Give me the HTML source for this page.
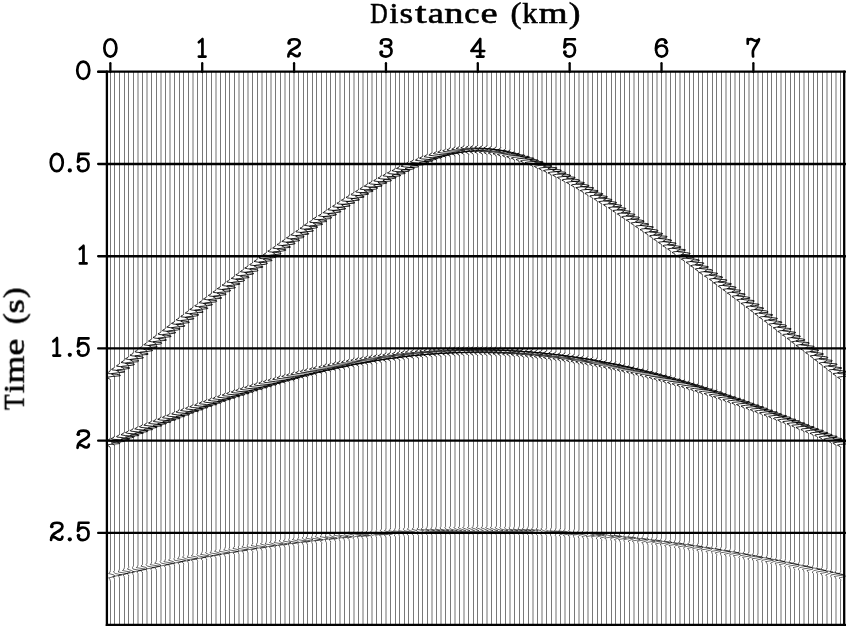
<!DOCTYPE html>
<html><head><meta charset="utf-8"><style>
html,body{margin:0;padding:0;background:#fff;width:846px;height:626px;overflow:hidden}
svg{position:absolute;left:0;top:0}
</style></head><body>
<svg width="846" height="626" viewBox="0 0 846 626">
<rect width="846" height="626" fill="#fff"/>
<path d="M110.5 72.00V369.87M110.5 380.20V437.75M110.5 448.08V570.55M110.5 580.88V625.50M114.5 72.00V366.92M114.5 376.51V435.54M114.5 445.86V570.55M114.5 579.41V625.50M119.5 72.00V363.23M119.5 372.82V434.06M119.5 443.65V569.08M119.5 577.93V625.50M124.5 72.00V359.54M124.5 369.87V431.85M124.5 442.18V567.60M124.5 577.93V625.50M128.5 72.00V355.85M128.5 366.18V429.63M128.5 439.96V566.13M128.5 576.46V625.50M133.5 72.00V352.16M133.5 362.49V428.16M133.5 437.75V566.13M133.5 574.98V625.50M142.5 72.00V345.52M142.5 355.12V423.73M142.5 434.06V563.17M142.5 573.50V625.50M151.5 72.00V338.15M151.5 348.47V420.04M151.5 430.37V561.70M151.5 570.55V625.50M156.5 72.00V334.46M156.5 344.79V418.57M156.5 428.16V560.22M156.5 570.55V625.50M165.5 72.00V327.82M165.5 337.41V414.88M165.5 424.47V558.75M165.5 567.60V625.50M174.5 72.00V320.44M174.5 330.77V411.19M174.5 420.78V557.27M174.5 566.13V625.50M179.5 72.00V316.75M179.5 327.08V408.97M179.5 419.30V555.80M179.5 564.65V625.50M183.5 72.00V313.80M183.5 323.39V407.50M183.5 417.83V554.32M183.5 564.65V625.50M188.5 72.00V310.11M188.5 320.44V406.02M188.5 415.61V554.32M188.5 563.17V625.50M197.5 72.00V303.47M197.5 313.06V402.33M197.5 412.66V552.85M197.5 561.70V625.50M202.5 72.00V299.78M202.5 309.37V400.86M202.5 410.45V551.37M202.5 560.22V625.50M206.5 72.00V296.09M206.5 306.42V398.65M206.5 408.97V551.37M206.5 560.22V625.50M211.5 72.00V292.40M211.5 302.73V397.17M211.5 407.50V549.89M211.5 558.75V625.50M220.5 72.00V285.76M220.5 296.09V394.22M220.5 403.81V548.42M220.5 557.27V625.50M225.5 72.00V282.07M225.5 292.40V392.74M225.5 402.33V546.94M225.5 557.27V625.50M229.5 72.00V279.12M229.5 288.71V390.53M229.5 400.86V546.94M229.5 555.80V625.50M234.5 72.00V275.43M234.5 285.76V389.05M234.5 399.38V545.47M234.5 555.80V625.50M243.5 72.00V268.79M243.5 278.38V386.10M243.5 396.43V543.99M243.5 554.32V625.50M252.5 72.00V262.15M252.5 271.74V383.15M252.5 393.48V542.52M252.5 552.85V625.50M257.5 72.00V258.46M257.5 268.79V381.68M257.5 392.01V542.52M257.5 551.37V625.50M266.5 72.00V251.82M266.5 262.15V378.72M266.5 389.05V541.04M266.5 549.89V625.50M275.5 72.00V245.18M275.5 255.51V376.51M275.5 386.10V539.57M275.5 548.42V625.50M280.5 72.00V241.49M280.5 251.82V375.04M280.5 385.37V539.57M280.5 548.42V625.50M289.5 72.00V234.85M289.5 245.18V372.82M289.5 382.41V538.09M289.5 546.94V625.50M298.5 72.00V228.95M298.5 238.54V369.87M298.5 380.20V536.61M298.5 545.47V625.50M303.5 72.00V225.26M303.5 235.59V369.13M303.5 378.72V536.61M303.5 545.47V625.50M307.5 72.00V222.31M307.5 232.64V367.66M307.5 377.99V535.14M307.5 545.47V625.50M312.5 72.00V219.36M312.5 228.95V366.92M312.5 376.51V535.14M312.5 543.99V625.50M316.5 72.00V215.67M316.5 226.00V365.44M316.5 375.77V533.66M316.5 543.99V625.50M321.5 72.00V212.72M321.5 223.05V364.71M321.5 374.30V533.66M321.5 543.99V625.50M326.5 72.00V209.77M326.5 220.10V363.23M326.5 373.56V533.66M326.5 542.52V625.50M330.5 72.00V206.82M330.5 216.41V362.49M330.5 372.08V532.19M330.5 542.52V625.50M335.5 72.00V203.87M335.5 213.46V361.02M335.5 371.35V532.19M335.5 542.52V625.50M344.5 72.00V197.23M344.5 207.56V359.54M344.5 369.87V532.19M344.5 541.04V625.50M349.5 72.00V194.27M349.5 204.60V358.80M349.5 368.40V530.71M349.5 541.04V625.50M358.5 72.00V189.11M358.5 198.70V356.59M358.5 366.92V530.71M358.5 539.57V625.50M367.5 72.00V183.21M367.5 193.54V355.12M367.5 365.44V529.24M367.5 539.57V625.50M376.5 72.00V178.04M376.5 187.63V353.64M376.5 363.97V529.24M376.5 538.09V625.50M381.5 72.00V175.09M381.5 185.42V352.90M381.5 363.23V529.24M381.5 538.09V625.50M390.5 72.00V169.93M390.5 180.26V351.43M390.5 361.76V527.76M390.5 538.09V625.50M395.5 72.00V167.71M395.5 178.04V351.43M395.5 361.02V527.76M395.5 536.61V625.50M399.5 72.00V165.50M399.5 175.83V350.69M399.5 361.02V527.76M399.5 536.61V625.50M404.5 72.00V163.29M404.5 173.62V349.95M404.5 360.28V527.76M404.5 536.61V625.50M408.5 72.00V161.07M408.5 171.40V349.21M408.5 359.54V527.76M408.5 536.61V625.50M413.5 72.00V158.86M413.5 169.19V349.21M413.5 358.80V526.28M413.5 536.61V625.50M418.5 72.00V157.38M418.5 166.98V348.47M418.5 358.80V526.28M418.5 536.61V625.50M422.5 72.00V155.17M422.5 165.50V348.47M422.5 358.07V526.28M422.5 535.14V625.50M427.5 72.00V153.70M427.5 164.02V347.74M427.5 358.07V526.28M427.5 535.14V625.50M436.5 72.00V150.74M436.5 161.07V347.00M436.5 357.33V526.28M436.5 535.14V625.50M445.5 72.00V148.53M445.5 158.12V347.00M445.5 356.59V526.28M445.5 535.14V625.50M450.5 72.00V147.06M450.5 157.38V346.26M450.5 356.59V526.28M450.5 535.14V625.50M459.5 72.00V145.58M459.5 155.91V346.26M459.5 356.59V526.28M459.5 535.14V625.50M468.5 72.00V144.84M468.5 155.17V346.26M468.5 355.85V524.81M468.5 535.14V625.50M473.5 72.00V144.84M473.5 154.43V346.26M473.5 355.85V524.81M473.5 535.14V625.50M477.5 72.00V144.84M477.5 154.43V346.26M477.5 355.85V524.81M477.5 535.14V625.50M482.5 72.00V144.84M482.5 155.17V346.26M482.5 355.85V524.81M482.5 535.14V625.50M491.5 72.00V145.58M491.5 155.91V346.26M491.5 356.59V526.28M491.5 535.14V625.50M496.5 72.00V146.32M496.5 156.65V346.26M496.5 356.59V526.28M496.5 535.14V625.50M500.5 72.00V147.06M500.5 157.38V346.26M500.5 356.59V526.28M500.5 535.14V625.50M505.5 72.00V148.53M505.5 158.12V347.00M505.5 356.59V526.28M505.5 535.14V625.50M514.5 72.00V150.74M514.5 161.07V347.00M514.5 357.33V526.28M514.5 535.14V625.50M519.5 72.00V152.22M519.5 162.55V347.74M519.5 357.33V526.28M519.5 535.14V625.50M523.5 72.00V153.70M523.5 164.02V347.74M523.5 358.07V526.28M523.5 535.14V625.50M528.5 72.00V155.17M528.5 165.50V348.47M528.5 358.07V526.28M528.5 535.14V625.50M537.5 72.00V158.86M537.5 169.19V349.21M537.5 358.80V526.28M537.5 536.61V625.50M546.5 72.00V163.29M546.5 173.62V349.95M546.5 360.28V527.76M546.5 536.61V625.50M551.5 72.00V165.50M551.5 175.83V350.69M551.5 361.02V527.76M551.5 536.61V625.50M560.5 72.00V169.93M560.5 180.26V351.43M560.5 361.76V527.76M560.5 538.09V625.50M569.5 72.00V175.09M569.5 185.42V352.90M569.5 363.23V529.24M569.5 538.09V625.50M574.5 72.00V178.04M574.5 187.63V353.64M574.5 363.97V529.24M574.5 538.09V625.50M583.5 72.00V183.21M583.5 193.54V355.12M583.5 365.44V529.24M583.5 539.57V625.50M592.5 72.00V189.11M592.5 198.70V356.59M592.5 366.92V530.71M592.5 539.57V625.50M597.5 72.00V192.06M597.5 201.65V357.33M597.5 367.66V530.71M597.5 539.57V625.50M601.5 72.00V194.27M601.5 204.60V358.80M601.5 368.40V530.71M601.5 541.04V625.50M606.5 72.00V197.23M606.5 207.56V359.54M606.5 369.87V532.19M606.5 541.04V625.50M611.5 72.00V200.92M611.5 210.51V360.28M611.5 370.61V532.19M611.5 541.04V625.50M615.5 72.00V203.87M615.5 213.46V361.02M615.5 371.35V532.19M615.5 542.52V625.50M620.5 72.00V206.82M620.5 216.41V362.49M620.5 372.08V532.19M620.5 542.52V625.50M624.5 72.00V209.77M624.5 220.10V363.23M624.5 373.56V533.66M624.5 542.52V625.50M629.5 72.00V212.72M629.5 223.05V364.71M629.5 374.30V533.66M629.5 543.99V625.50M638.5 72.00V219.36M638.5 228.95V366.92M638.5 376.51V535.14M638.5 543.99V625.50M643.5 72.00V222.31M643.5 232.64V367.66M643.5 377.99V535.14M643.5 545.47V625.50M652.5 72.00V228.95M652.5 238.54V369.87M652.5 380.20V536.61M652.5 545.47V625.50M661.5 72.00V234.85M661.5 245.18V372.82M661.5 382.41V538.09M661.5 546.94V625.50M670.5 72.00V241.49M670.5 251.82V375.04M670.5 385.37V539.57M670.5 548.42V625.50M675.5 72.00V245.18M675.5 255.51V376.51M675.5 386.10V539.57M675.5 548.42V625.50M684.5 72.00V251.82M684.5 262.15V378.72M684.5 389.05V541.04M684.5 549.89V625.50M689.5 72.00V254.77M689.5 265.10V380.20M689.5 390.53V541.04M689.5 551.37V625.50M693.5 72.00V258.46M693.5 268.79V381.68M693.5 392.01V542.52M693.5 551.37V625.50M698.5 72.00V262.15M698.5 271.74V383.15M698.5 393.48V542.52M698.5 552.85V625.50M702.5 72.00V265.10M702.5 275.43V384.63M702.5 394.96V543.99M702.5 552.85V625.50M707.5 72.00V268.79M707.5 278.38V386.10M707.5 396.43V543.99M707.5 554.32V625.50M712.5 72.00V271.74M712.5 282.07V387.58M712.5 397.91V545.47M712.5 554.32V625.50M716.5 72.00V275.43M716.5 285.76V389.05M716.5 399.38V545.47M716.5 555.80V625.50M721.5 72.00V279.12M721.5 288.71V390.53M721.5 400.86V546.94M721.5 555.80V625.50M730.5 72.00V285.76M730.5 296.09V394.22M730.5 403.81V548.42M730.5 557.27V625.50M739.5 72.00V292.40M739.5 302.73V397.17M739.5 407.50V549.89M739.5 558.75V625.50M744.5 72.00V296.09M744.5 306.42V398.65M744.5 408.97V551.37M744.5 560.22V625.50M753.5 72.00V303.47M753.5 313.06V402.33M753.5 412.66V552.85M753.5 561.70V625.50M762.5 72.00V310.11M762.5 320.44V406.02M762.5 415.61V554.32M762.5 563.17V625.50M767.5 72.00V313.80M767.5 323.39V407.50M767.5 417.83V554.32M767.5 564.65V625.50M771.5 72.00V316.75M771.5 327.08V408.97M771.5 419.30V555.80M771.5 564.65V625.50M776.5 72.00V320.44M776.5 330.77V411.19M776.5 420.78V557.27M776.5 566.13V625.50M785.5 72.00V327.82M785.5 337.41V414.88M785.5 424.47V558.75M785.5 567.60V625.50M790.5 72.00V331.51M790.5 341.10V416.35M790.5 426.68V560.22M790.5 569.08V625.50M794.5 72.00V334.46M794.5 344.79V418.57M794.5 428.16V560.22M794.5 570.55V625.50M799.5 72.00V338.15M799.5 348.47V420.04M799.5 430.37V561.70M799.5 570.55V625.50M808.5 72.00V345.52M808.5 355.12V423.73M808.5 434.06V563.17M808.5 573.50V625.50M813.5 72.00V349.21M813.5 358.80V425.94M813.5 436.27V564.65M813.5 573.50V625.50M817.5 72.00V352.16M817.5 362.49V428.16M817.5 437.75V566.13M817.5 574.98V625.50M822.5 72.00V355.85M822.5 366.18V429.63M822.5 439.96V566.13M822.5 576.46V625.50M831.5 72.00V363.23M831.5 372.82V434.06M831.5 443.65V569.08M831.5 577.93V625.50M840.5 72.00V369.87M840.5 380.20V437.75M840.5 448.08V570.55M840.5 580.88V625.50" fill="none" stroke="#787878" stroke-width="1"/>
<path d="M137.5 72.00V349.21M137.5 358.80V425.94M137.5 436.27V564.65M137.5 573.50V625.50M138.5 72.00V349.21M138.5 358.80V425.94M138.5 436.27V564.65M138.5 573.50V625.50M146.5 72.00V341.83M146.5 352.16V422.25M146.5 432.58V563.17M146.5 572.03V625.50M147.5 72.00V341.83M147.5 352.16V422.25M147.5 432.58V563.17M147.5 572.03V625.50M160.5 72.00V331.51M160.5 341.10V416.35M160.5 426.68V560.22M160.5 569.08V625.50M161.5 72.00V331.51M161.5 341.10V416.35M161.5 426.68V560.22M161.5 569.08V625.50M169.5 72.00V324.13M169.5 334.46V412.66M169.5 422.99V557.27M169.5 567.60V625.50M170.5 72.00V324.13M170.5 334.46V412.66M170.5 422.99V557.27M170.5 567.60V625.50M192.5 72.00V306.42M192.5 316.75V403.81M192.5 414.14V552.85M192.5 563.17V625.50M193.5 72.00V306.42M193.5 316.75V403.81M193.5 414.14V552.85M193.5 563.17V625.50M215.5 72.00V289.45M215.5 299.04V395.69M215.5 406.02V548.42M215.5 558.75V625.50M216.5 72.00V289.45M216.5 299.04V395.69M216.5 406.02V548.42M216.5 558.75V625.50M238.5 72.00V271.74M238.5 282.07V387.58M238.5 397.91V545.47M238.5 554.32V625.50M239.5 72.00V271.74M239.5 282.07V387.58M239.5 397.91V545.47M239.5 554.32V625.50M247.5 72.00V265.10M247.5 275.43V384.63M247.5 394.96V543.99M247.5 552.85V625.50M248.5 72.00V265.10M248.5 275.43V384.63M248.5 394.96V543.99M248.5 552.85V625.50M261.5 72.00V254.77M261.5 265.10V380.20M261.5 390.53V541.04M261.5 551.37V625.50M262.5 72.00V254.77M262.5 265.10V380.20M262.5 390.53V541.04M262.5 551.37V625.50M270.5 72.00V248.13M270.5 258.46V377.99M270.5 387.58V539.57M270.5 549.89V625.50M271.5 72.00V248.13M271.5 258.46V377.99M271.5 387.58V539.57M271.5 549.89V625.50M284.5 72.00V238.54M284.5 248.87V373.56M284.5 383.89V538.09M284.5 548.42V625.50M285.5 72.00V238.54M285.5 248.87V373.56M285.5 383.89V538.09M285.5 548.42V625.50M293.5 72.00V231.90M293.5 242.23V371.35M293.5 381.68V536.61M293.5 546.94V625.50M294.5 72.00V231.90M294.5 242.23V371.35M294.5 381.68V536.61M294.5 546.94V625.50M339.5 72.00V200.92M339.5 210.51V360.28M339.5 370.61V532.19M339.5 541.04V625.50M340.5 72.00V200.92M340.5 210.51V360.28M340.5 370.61V532.19M340.5 541.04V625.50M353.5 72.00V192.06M353.5 201.65V357.33M353.5 367.66V530.71M353.5 539.57V625.50M354.5 72.00V192.06M354.5 201.65V357.33M354.5 367.66V530.71M354.5 539.57V625.50M362.5 72.00V186.16M362.5 196.49V355.85M362.5 366.18V530.71M362.5 539.57V625.50M363.5 72.00V186.16M363.5 196.49V355.85M363.5 366.18V530.71M363.5 539.57V625.50M371.5 72.00V180.26M371.5 190.59V354.38M371.5 364.71V529.24M371.5 538.09V625.50M372.5 72.00V180.26M372.5 190.59V354.38M372.5 364.71V529.24M372.5 538.09V625.50M385.5 72.00V172.88M385.5 182.47V352.16M385.5 362.49V527.76M385.5 538.09V625.50M386.5 72.00V172.88M386.5 182.47V352.16M386.5 362.49V527.76M386.5 538.09V625.50M431.5 72.00V152.22M431.5 162.55V347.74M431.5 357.33V526.28M431.5 535.14V625.50M432.5 72.00V152.22M432.5 162.55V347.74M432.5 357.33V526.28M432.5 535.14V625.50M440.5 72.00V149.27M440.5 159.60V347.00M440.5 357.33V526.28M440.5 535.14V625.50M441.5 72.00V149.27M441.5 159.60V347.00M441.5 357.33V526.28M441.5 535.14V625.50M454.5 72.00V146.32M454.5 156.65V346.26M454.5 356.59V526.28M454.5 535.14V625.50M455.5 72.00V146.32M455.5 156.65V346.26M455.5 356.59V526.28M455.5 535.14V625.50M463.5 72.00V144.84M463.5 155.17V346.26M463.5 355.85V524.81M463.5 535.14V625.50M464.5 72.00V144.84M464.5 155.17V346.26M464.5 355.85V524.81M464.5 535.14V625.50M486.5 72.00V144.84M486.5 155.17V346.26M486.5 355.85V524.81M486.5 535.14V625.50M487.5 72.00V144.84M487.5 155.17V346.26M487.5 355.85V524.81M487.5 535.14V625.50M509.5 72.00V149.27M509.5 159.60V347.00M509.5 357.33V526.28M509.5 535.14V625.50M510.5 72.00V149.27M510.5 159.60V347.00M510.5 357.33V526.28M510.5 535.14V625.50M532.5 72.00V157.38M532.5 166.98V348.47M532.5 358.80V526.28M532.5 536.61V625.50M533.5 72.00V157.38M533.5 166.98V348.47M533.5 358.80V526.28M533.5 536.61V625.50M541.5 72.00V161.07M541.5 171.40V349.21M541.5 359.54V527.76M541.5 536.61V625.50M542.5 72.00V161.07M542.5 171.40V349.21M542.5 359.54V527.76M542.5 536.61V625.50M555.5 72.00V167.71M555.5 178.04V351.43M555.5 361.02V527.76M555.5 536.61V625.50M556.5 72.00V167.71M556.5 178.04V351.43M556.5 361.02V527.76M556.5 536.61V625.50M564.5 72.00V172.88M564.5 182.47V352.16M564.5 362.49V527.76M564.5 538.09V625.50M565.5 72.00V172.88M565.5 182.47V352.16M565.5 362.49V527.76M565.5 538.09V625.50M578.5 72.00V180.26M578.5 190.59V354.38M578.5 364.71V529.24M578.5 538.09V625.50M579.5 72.00V180.26M579.5 190.59V354.38M579.5 364.71V529.24M579.5 538.09V625.50M587.5 72.00V186.16M587.5 196.49V355.85M587.5 366.18V530.71M587.5 539.57V625.50M588.5 72.00V186.16M588.5 196.49V355.85M588.5 366.18V530.71M588.5 539.57V625.50M633.5 72.00V215.67M633.5 226.00V365.44M633.5 375.77V533.66M633.5 543.99V625.50M634.5 72.00V215.67M634.5 226.00V365.44M634.5 375.77V533.66M634.5 543.99V625.50M647.5 72.00V225.26M647.5 235.59V369.13M647.5 378.72V536.61M647.5 545.47V625.50M648.5 72.00V225.26M648.5 235.59V369.13M648.5 378.72V536.61M648.5 545.47V625.50M656.5 72.00V231.90M656.5 242.23V371.35M656.5 381.68V536.61M656.5 546.94V625.50M657.5 72.00V231.90M657.5 242.23V371.35M657.5 381.68V536.61M657.5 546.94V625.50M665.5 72.00V238.54M665.5 248.87V373.56M665.5 383.89V538.09M665.5 548.42V625.50M666.5 72.00V238.54M666.5 248.87V373.56M666.5 383.89V538.09M666.5 548.42V625.50M679.5 72.00V248.13M679.5 258.46V377.99M679.5 387.58V539.57M679.5 549.89V625.50M680.5 72.00V248.13M680.5 258.46V377.99M680.5 387.58V539.57M680.5 549.89V625.50M725.5 72.00V282.07M725.5 292.40V392.74M725.5 402.33V546.94M725.5 557.27V625.50M726.5 72.00V282.07M726.5 292.40V392.74M726.5 402.33V546.94M726.5 557.27V625.50M734.5 72.00V289.45M734.5 299.04V395.69M734.5 406.02V548.42M734.5 558.75V625.50M735.5 72.00V289.45M735.5 299.04V395.69M735.5 406.02V548.42M735.5 558.75V625.50M748.5 72.00V299.78M748.5 309.37V400.86M748.5 410.45V551.37M748.5 560.22V625.50M749.5 72.00V299.78M749.5 309.37V400.86M749.5 410.45V551.37M749.5 560.22V625.50M757.5 72.00V306.42M757.5 316.75V403.81M757.5 414.14V552.85M757.5 563.17V625.50M758.5 72.00V306.42M758.5 316.75V403.81M758.5 414.14V552.85M758.5 563.17V625.50M780.5 72.00V324.13M780.5 334.46V412.66M780.5 422.99V557.27M780.5 567.60V625.50M781.5 72.00V324.13M781.5 334.46V412.66M781.5 422.99V557.27M781.5 567.60V625.50M803.5 72.00V341.83M803.5 352.16V422.25M803.5 432.58V563.17M803.5 572.03V625.50M804.5 72.00V341.83M804.5 352.16V422.25M804.5 432.58V563.17M804.5 572.03V625.50M826.5 72.00V359.54M826.5 369.87V431.85M826.5 442.18V567.60M826.5 577.93V625.50M827.5 72.00V359.54M827.5 369.87V431.85M827.5 442.18V567.60M827.5 577.93V625.50M835.5 72.00V366.92M835.5 376.51V435.54M835.5 445.86V570.55M835.5 579.41V625.50M836.5 72.00V366.92M836.5 376.51V435.54M836.5 445.86V570.55M836.5 579.41V625.50" fill="none" stroke="#b9b9b9" stroke-width="1"/>
<path d="M110.25 369.87L110.19 370.61L109.86 371.35L108.73 372.08L107.07 372.82L108.54 373.56L116.72 374.30L120.25 375.04L120.25 375.77L112.10 376.51L107.09 377.25L107.79 377.99L109.40 378.72L110.08 379.46L110.23 380.20M114.50 366.92L114.21 367.66L113.25 368.40L111.53 369.13L112.08 369.87L119.24 370.61L124.50 371.35L124.50 372.08L117.90 372.82L111.67 373.56L111.75 374.30L113.44 375.04L114.27 375.77L114.47 376.51M119.50 363.23L119.29 363.97L118.49 364.71L116.81 365.44L116.58 366.18L122.55 366.92L129.50 367.66L129.50 368.40L124.61 369.13L117.21 369.87L116.48 370.61L118.19 371.35L119.19 372.08L119.46 372.82M124.25 359.54L124.10 360.28L123.45 361.02L121.87 361.76L121.04 362.49L125.72 363.23L134.25 363.97L134.25 364.71L131.18 365.44L122.76 366.18L121.03 366.92L122.66 367.66L123.83 368.40L124.19 369.13L124.24 369.87M128.75 355.85L128.64 356.59L128.14 357.33L126.71 358.07L125.43 358.80L128.81 359.54L138.25 360.28L138.75 361.02L137.55 361.76L128.33 362.49L125.43 363.23L126.84 363.97L128.20 364.71L128.66 365.44L128.74 366.18M133.25 352.16L133.18 352.90L132.79 353.64L131.54 354.38L129.98 355.12L132.11 355.85L140.86 356.59L143.25 357.33L143.25 358.07L134.19 358.80L129.98 359.54L130.99 360.28L132.52 361.02L133.11 361.76L133.23 362.49M138.00 349.21L137.66 349.95L136.61 350.69L134.92 351.43L135.92 352.16L143.63 352.90L148.00 353.64L148.00 354.38L140.58 355.12L134.98 355.85L135.40 356.59L137.05 357.33L137.81 358.07L137.98 358.80M142.50 345.52L142.26 346.26L141.40 347.00L139.70 347.74L139.75 348.47L146.17 349.21L152.50 349.95L152.50 350.69L146.96 351.43L139.99 352.16L139.58 352.90L141.29 353.64L142.22 354.38L142.46 355.12M147.00 341.83L146.83 342.57L146.16 343.31L144.55 344.05L143.84 344.79L148.82 345.52L157.00 346.26L157.00 347.00L153.51 347.74L145.30 348.47L143.82 349.21L145.47 349.95L146.61 350.69L146.94 351.43L146.99 352.16M151.75 338.15L151.64 338.88L151.12 339.62L149.68 340.36L148.43 341.10L151.92 341.83L161.40 342.57L161.75 343.31L160.39 344.05L151.23 344.79L148.43 345.52L149.86 346.26L151.21 347.00L151.66 347.74L151.74 348.47M156.25 334.46L156.18 335.19L155.80 335.93L154.56 336.67L152.99 337.41L155.06 338.15L163.76 338.88L166.25 339.62L166.25 340.36L157.27 341.10L152.99 341.83L153.98 342.57L155.51 343.31L156.11 344.05L156.23 344.79M161.00 331.51L160.68 332.24L159.67 332.98L157.96 333.72L158.77 334.46L166.26 335.19L171.00 335.93L171.00 336.67L163.92 337.41L158.05 338.15L158.33 338.88L160.01 339.62L160.79 340.36L160.97 341.10M165.50 327.82L165.29 328.55L164.49 329.29L162.81 330.03L162.58 330.77L168.55 331.51L175.50 332.24L175.50 332.98L170.61 333.72L163.22 334.46L162.48 335.19L164.19 335.93L165.19 336.67L165.46 337.41M170.00 324.13L169.86 324.87L169.26 325.60L167.72 326.34L166.74 327.08L171.04 327.82L180.00 328.55L180.00 329.29L177.48 330.03L168.79 330.77L166.74 331.51L168.31 332.24L169.55 332.98L169.93 333.72L169.99 334.46M174.75 320.44L174.66 321.18L174.23 321.91L172.90 322.65L171.44 323.39L174.08 324.13L183.16 324.87L184.75 325.60L184.62 326.34L175.09 327.08L171.44 327.82L172.64 328.55L174.10 329.29L174.63 330.03L174.74 330.77M179.25 316.75L179.20 317.49L178.90 318.23L177.82 318.96L176.14 319.70L177.28 320.44L185.15 321.18L189.25 321.91L189.25 322.65L181.59 323.39L176.18 324.13L176.69 324.87L178.34 325.60L179.06 326.34L179.23 327.08M183.75 313.80L183.52 314.54L182.69 315.27L181.00 316.01L180.92 316.75L187.14 317.49L193.75 318.23L193.75 318.96L188.50 319.70L181.33 320.44L180.78 321.18L182.50 321.91L183.46 322.65L183.71 323.39M188.50 310.11L188.36 310.85L187.75 311.58L186.21 312.32L185.24 313.06L189.60 313.80L198.50 314.54L198.50 315.27L195.90 316.01L187.25 316.75L185.24 317.49L186.83 318.23L188.05 318.96L188.43 319.70L188.49 320.44M193.00 306.42L192.92 307.16L192.50 307.90L191.19 308.63L189.70 309.37L192.20 310.11L201.20 310.85L203.00 311.58L203.00 312.32L193.50 313.06L189.69 313.80L190.85 314.54L192.33 315.27L192.88 316.01L192.99 316.75M197.75 303.47L197.43 304.21L196.40 304.94L194.70 305.68L195.56 306.42L203.12 307.16L207.75 307.90L207.75 308.63L200.56 309.37L194.78 310.11L195.10 310.85L196.77 311.58L197.55 312.32L197.72 313.06M202.25 299.78L202.05 300.52L201.30 301.26L199.64 301.99L199.24 302.73L204.86 303.47L212.25 304.21L212.25 304.94L207.84 305.68L200.15 306.42L199.17 307.16L200.87 307.90L201.91 308.63L202.20 309.37M206.75 296.09L206.64 296.83L206.12 297.57L204.67 298.30L203.43 299.04L206.96 299.78L216.45 300.52L216.75 301.26L215.34 301.99L206.20 302.73L203.43 303.47L204.87 304.21L206.21 304.94L206.66 305.68L206.74 306.42M211.50 292.40L211.44 293.14L211.10 293.88L209.95 294.62L208.31 295.35L209.87 296.09L218.14 296.83L221.50 297.57L221.50 298.30L213.21 299.04L208.32 299.78L209.07 300.52L210.67 301.26L211.34 301.99L211.48 302.73M216.00 289.45L215.77 290.19L214.92 290.93L213.23 291.66L213.20 292.40L219.51 293.14L226.00 293.88L226.00 294.62L220.62 295.35L213.54 296.09L213.05 296.83L214.76 297.57L215.72 298.30L215.96 299.04M220.50 285.76L220.37 286.50L219.80 287.24L218.30 287.98L217.21 288.71L221.21 289.45L230.50 290.19L230.50 290.93L228.42 291.66L219.54 292.40L217.21 293.14L218.74 293.88L220.02 294.62L220.42 295.35L220.49 296.09M225.25 282.07L225.18 282.81L224.83 283.55L223.64 284.29L222.02 285.02L223.80 285.76L232.26 286.50L235.25 287.24L235.25 287.98L226.66 288.71L222.03 289.45L222.89 290.19L224.46 290.93L225.10 291.66L225.23 292.40M229.75 279.12L229.51 279.86L228.67 280.60L226.97 281.34L226.96 282.07L233.30 282.81L239.75 283.55L239.75 284.29L234.33 285.02L227.28 285.76L226.81 286.50L228.52 287.24L229.47 287.98L229.71 288.71M234.50 275.43L234.38 276.17L233.83 276.91L232.35 277.65L231.19 278.38L234.98 279.12L244.50 279.86L244.50 280.60L242.71 281.34L233.71 282.07L231.20 282.81L232.69 283.55L233.99 284.29L234.42 285.02L234.49 285.76M239.00 271.74L238.94 272.48L238.62 273.22L237.50 273.96L235.84 274.69L237.23 275.43L245.35 276.17L249.00 276.91L249.00 277.65L240.96 278.38L235.86 279.12L236.52 279.86L238.14 280.60L238.83 281.34L238.98 282.07M243.50 268.79L243.30 269.53L242.55 270.27L240.89 271.01L240.48 271.74L246.10 272.48L253.50 273.22L253.50 273.96L249.11 274.69L241.41 275.43L240.42 276.17L242.12 276.91L243.16 277.65L243.45 278.38M248.00 265.10L247.91 265.84L247.46 266.58L246.11 267.32L244.68 268.05L247.50 268.79L256.68 269.53L258.00 270.27L257.62 271.01L248.15 271.74L244.68 272.48L245.94 273.22L247.37 273.96L247.89 274.69L247.99 275.43M252.75 262.15L252.47 262.89L251.53 263.63L249.82 264.37L250.25 265.10L257.26 265.84L262.75 266.58L262.75 267.32L256.37 268.05L249.98 268.79L249.96 269.53L251.66 270.27L252.51 271.01L252.72 271.74M257.25 258.46L257.12 259.20L256.55 259.94L255.05 260.68L253.96 261.41L257.96 262.15L267.25 262.89L267.25 263.63L265.16 264.37L256.29 265.10L253.96 265.84L255.49 266.58L256.77 267.32L257.17 268.05L257.24 268.79M262.00 254.77L261.95 255.51L261.65 256.25L260.57 256.99L258.88 257.73L260.04 258.46L267.91 259.20L272.00 259.94L272.00 260.68L264.33 261.41L258.93 262.15L259.45 262.89L261.09 263.63L261.81 264.37L261.98 265.10M266.50 251.82L266.34 252.56L265.69 253.30L264.10 254.04L263.30 254.77L268.06 255.51L276.50 256.25L276.50 256.99L273.32 257.73L264.95 258.46L263.29 259.20L264.92 259.94L266.09 260.68L266.44 261.41L266.49 262.15M271.00 248.13L270.94 248.87L270.60 249.61L269.45 250.35L267.81 251.09L269.37 251.82L277.65 252.56L281.00 253.30L281.00 254.04L272.71 254.77L267.82 255.51L268.57 256.25L270.17 256.99L270.84 257.73L270.98 258.46M275.75 245.18L275.58 245.92L274.90 246.66L273.29 247.40L272.60 248.13L277.62 248.87L285.75 249.61L285.75 250.35L282.21 251.09L274.03 251.82L272.58 252.56L274.23 253.30L275.36 254.04L275.69 254.77L275.74 255.51M280.25 241.49L280.19 242.23L279.85 242.97L278.71 243.71L277.06 244.45L278.61 245.18L286.87 245.92L290.25 246.66L290.25 247.40L281.98 248.13L277.07 248.87L277.82 249.61L279.42 250.35L280.09 251.09L280.23 251.82M285.00 238.54L284.85 239.28L284.20 240.02L282.62 240.76L281.79 241.49L286.50 242.23L295.00 242.97L295.00 243.71L291.91 244.45L283.49 245.18L281.78 245.92L283.41 246.66L284.59 247.40L284.94 248.13L284.99 248.87M289.50 234.85L289.45 235.59L289.16 236.33L288.10 237.07L286.40 237.81L287.46 238.54L295.23 239.28L299.50 240.02L299.50 240.76L291.99 241.49L286.46 242.23L286.91 242.97L288.57 243.71L289.31 244.45L289.48 245.18M294.00 231.90L293.88 232.64L293.34 233.38L291.86 234.12L290.69 234.85L294.45 235.59L304.00 236.33L304.00 237.07L302.26 237.81L293.24 238.54L290.70 239.28L292.18 240.02L293.49 240.76L293.92 241.49L293.99 242.23M298.75 228.95L298.50 229.69L297.62 230.43L295.91 231.16L296.07 231.90L302.67 232.64L308.75 233.38L308.75 234.12L302.95 234.85L296.15 235.59L295.87 236.33L297.58 237.07L298.49 237.81L298.71 238.54M303.25 225.26L303.17 226.00L302.78 226.74L301.53 227.48L299.97 228.21L302.16 228.95L310.95 229.69L313.25 230.43L313.25 231.16L304.12 231.90L299.97 232.64L301.01 233.38L302.53 234.12L303.12 234.85L303.23 235.59M307.50 222.31L307.35 223.05L306.72 223.79L305.16 224.52L304.27 225.26L308.83 226.00L317.50 226.74L317.50 227.48L314.61 228.21L306.10 228.95L304.27 229.69L305.88 230.43L307.07 231.16L307.43 231.90L307.49 232.64M312.50 219.36L312.24 220.10L311.33 220.84L309.62 221.57L309.90 222.31L316.70 223.05L322.50 223.79L322.50 224.52L316.42 225.26L309.82 226.00L309.66 226.74L311.37 227.48L312.25 228.21L312.47 228.95M316.50 215.67L316.43 216.41L316.08 217.15L314.88 217.88L313.27 218.62L315.08 219.36L323.57 220.10L326.50 220.84L326.50 221.57L317.86 222.31L313.27 223.05L314.15 223.79L315.72 224.52L316.35 225.26L316.48 226.00M321.75 212.72L321.64 213.46L321.13 214.20L319.69 214.93L318.43 215.67L321.87 216.41L331.34 217.15L331.75 217.88L330.46 218.62L321.27 219.36L318.43 220.10L319.85 220.84L321.21 221.57L321.66 222.31L321.74 223.05M326.25 209.77L326.08 210.51L325.41 211.24L323.80 211.98L323.09 212.72L328.06 213.46L336.25 214.20L336.25 214.93L332.78 215.67L324.56 216.41L323.07 217.15L324.72 217.88L325.86 218.62L326.19 219.36L326.24 220.10M330.75 206.82L330.52 207.56L329.69 208.29L328.00 209.03L327.92 209.77L334.14 210.51L340.75 211.24L340.75 211.98L335.50 212.72L328.33 213.46L327.78 214.20L329.50 214.93L330.46 215.67L330.71 216.41M335.50 203.87L335.21 204.60L334.25 205.34L332.54 206.08L333.07 206.82L340.20 207.56L345.50 208.29L345.50 209.03L338.94 209.77L332.68 210.51L332.74 211.24L334.43 211.98L335.27 212.72L335.47 213.46M340.00 200.92L339.66 201.65L338.62 202.39L336.92 203.13L337.91 203.87L345.60 204.60L350.00 205.34L350.00 206.08L342.60 206.82L336.98 207.56L337.39 208.29L339.05 209.03L339.80 209.77L339.98 210.51M344.50 197.23L344.45 197.96L344.14 198.70L343.05 199.44L341.37 200.18L342.59 200.92L350.55 201.65L354.50 202.39L354.50 203.13L346.72 203.87L341.41 204.60L341.97 205.34L343.60 206.08L344.32 206.82L344.48 207.56M349.25 194.27L349.20 195.01L348.89 195.75L347.81 196.49L346.13 197.23L347.31 197.96L355.22 198.70L359.25 199.44L359.25 200.18L351.53 200.92L346.17 201.65L346.71 202.39L348.34 203.13L349.07 203.87L349.23 204.60M354.00 192.06L353.68 192.80L352.65 193.54L350.95 194.27L351.81 195.01L359.35 195.75L364.00 196.49L364.00 197.23L356.83 197.96L351.03 198.70L351.35 199.44L353.02 200.18L353.80 200.92L353.97 201.65M358.50 189.11L358.24 189.85L357.33 190.59L355.62 191.32L355.89 192.06L362.67 192.80L368.50 193.54L368.50 194.27L362.45 195.01L355.83 195.75L355.66 196.49L357.36 197.23L358.25 197.96L358.47 198.70M363.00 186.16L362.81 186.90L362.07 187.63L360.42 188.37L359.96 189.11L365.47 189.85L373.00 190.59L373.00 191.32L368.75 192.06L360.97 192.80L359.90 193.54L361.59 194.27L362.66 195.01L362.95 195.75L363.00 196.49M367.50 183.21L367.38 183.95L366.84 184.68L365.36 185.42L364.19 186.16L367.94 186.90L377.50 187.63L377.50 188.37L375.77 189.11L366.75 189.85L364.20 190.59L365.68 191.32L366.99 192.06L367.42 192.80L367.49 193.54M372.00 180.26L371.94 180.99L371.59 181.73L370.42 182.47L368.79 183.21L370.45 183.95L378.82 184.68L382.00 185.42L382.00 186.16L373.57 186.90L368.80 187.63L369.60 188.37L371.19 189.11L371.84 189.85L371.98 190.59M376.75 178.04L376.54 178.78L375.76 179.52L374.09 180.26L373.80 180.99L379.66 181.73L386.75 182.47L386.75 183.21L382.02 183.95L374.52 184.68L373.71 185.42L375.42 186.16L376.43 186.90L376.70 187.63M381.25 175.09L381.17 175.83L380.74 176.57L379.44 177.31L377.95 178.04L380.46 178.78L389.46 179.52L391.25 180.26L391.25 180.99L381.74 181.73L377.94 182.47L379.10 183.21L380.58 183.95L381.13 184.68L381.24 185.42M386.00 172.88L385.80 173.62L385.05 174.35L383.39 175.09L382.98 175.83L388.60 176.57L396.00 177.31L396.00 178.04L391.61 178.78L383.91 179.52L382.92 180.26L384.62 180.99L385.66 181.73L385.95 182.47M390.50 169.93L390.45 170.67L390.14 171.40L389.06 172.14L387.37 172.88L388.57 173.62L396.49 174.35L400.50 175.09L400.50 175.83L392.76 176.57L387.42 177.31L387.96 178.04L389.60 178.78L390.32 179.52L390.48 180.26M395.25 167.71L395.16 168.45L394.72 169.19L393.39 169.93L391.94 170.67L394.64 171.40L403.76 172.14L405.25 172.88L405.03 173.62L395.52 174.35L391.93 175.09L393.16 175.83L394.61 176.57L395.14 177.31L395.24 178.04M399.75 165.50L399.63 166.24L399.10 166.98L397.64 167.71L396.44 168.45L400.08 169.19L409.61 169.93L409.75 170.67L408.17 171.40L399.09 172.14L396.44 172.88L397.90 173.62L399.23 174.35L399.66 175.09L399.74 175.83M404.25 163.29L404.13 164.02L403.58 164.76L402.10 165.50L400.94 166.24L404.74 166.98L414.25 167.71L414.25 168.45L412.46 169.19L403.46 169.93L400.95 170.67L402.44 171.40L403.74 172.14L404.17 172.88L404.24 173.62M408.50 161.07L408.40 161.81L407.93 162.55L406.54 163.29L405.18 164.02L408.25 164.76L417.55 165.50L418.50 166.24L417.75 166.98L408.38 167.71L405.18 168.45L406.50 169.19L407.91 169.93L408.40 170.67L408.49 171.40M413.50 158.86L413.44 159.60L413.10 160.34L411.95 161.07L410.31 161.81L411.87 162.55L420.14 163.29L423.50 164.02L423.50 164.76L415.21 165.50L410.32 166.24L411.07 166.98L412.67 167.71L413.34 168.45L413.48 169.19M418.50 157.38L418.29 158.12L417.51 158.86L415.84 159.60L415.54 160.34L421.38 161.07L428.50 161.81L428.50 162.55L423.80 163.29L416.29 164.02L415.46 164.76L417.16 165.50L418.18 166.24L418.45 166.98M422.75 155.17L422.68 155.91L422.29 156.65L421.04 157.38L419.48 158.12L421.61 158.86L430.36 159.60L432.75 160.34L432.75 161.07L423.69 161.81L419.48 162.55L420.49 163.29L422.02 164.02L422.61 164.76L422.73 165.50M427.25 153.70L427.11 154.43L426.52 155.17L424.98 155.91L423.98 156.65L428.25 157.38L437.25 158.12L437.25 158.86L434.79 159.60L426.07 160.34L423.99 161.07L425.56 161.81L426.79 162.55L427.18 163.29L427.24 164.02M432.00 152.22L431.82 152.96L431.11 153.70L429.47 154.43L428.90 155.17L434.19 155.91L442.00 156.65L442.00 157.38L438.08 158.12L430.11 158.86L428.86 159.60L430.54 160.34L431.64 161.07L431.95 161.81L431.99 162.55M436.50 150.74L436.33 151.48L435.65 152.22L434.04 152.96L433.34 153.70L438.35 154.43L446.50 155.17L446.50 155.91L442.98 156.65L434.79 157.38L433.32 158.12L434.98 158.86L436.11 159.60L436.44 160.34L436.49 161.07M441.00 149.27L440.89 150.01L440.39 150.74L438.96 151.48L437.68 152.22L441.05 152.96L450.48 153.70L451.00 154.43L449.82 155.17L440.59 155.91L437.68 156.65L439.08 157.38L440.45 158.12L440.91 158.86L440.99 159.60M445.75 148.53L445.44 149.27L444.44 150.01L442.73 150.74L443.47 151.48L450.88 152.22L455.75 152.96L455.75 153.70L448.78 154.43L442.83 155.17L443.06 155.91L444.74 156.65L445.54 157.38L445.72 158.12M450.25 147.06L450.15 147.79L449.69 148.53L448.32 149.27L446.93 150.01L449.89 150.74L459.15 151.48L460.25 152.22L459.65 152.96L450.24 153.70L446.93 154.43L448.23 155.17L449.64 155.91L450.14 156.65L450.24 157.38M455.00 146.32L454.87 147.06L454.30 147.79L452.79 148.53L451.71 149.27L455.75 150.01L465.00 150.74L465.00 151.48L462.86 152.22L454.00 152.96L451.72 153.70L453.25 154.43L454.52 155.17L454.92 155.91L454.99 156.65M459.50 145.58L459.39 146.32L458.86 147.06L457.42 147.79L456.18 148.53L459.73 149.27L469.22 150.01L469.50 150.74L468.06 151.48L458.93 152.22L456.19 152.96L457.63 153.70L458.97 154.43L459.41 155.17L459.49 155.91M464.00 144.84L463.94 145.58L463.60 146.32L462.44 147.06L460.80 147.79L462.40 148.53L470.72 149.27L474.00 150.01L474.00 150.74L465.65 151.48L460.81 152.22L461.59 152.96L463.18 153.70L463.84 154.43L463.98 155.17M468.75 144.84L468.59 145.58L467.93 146.32L466.34 147.06L465.56 147.79L470.36 148.53L478.75 149.27L478.75 150.01L475.51 150.74L467.18 151.48L465.55 152.22L467.18 152.96L468.35 153.70L468.69 154.43L468.74 155.17M473.25 144.84L473.01 145.58L472.14 146.32L470.43 147.06L470.52 147.79L477.02 148.53L483.25 149.27L483.25 150.01L477.60 150.74L470.70 151.48L470.34 152.22L472.05 152.96L472.98 153.70L473.21 154.43M477.75 144.84L477.51 145.58L476.64 146.32L474.93 147.06L475.02 147.79L481.52 148.53L487.75 149.27L487.75 150.01L482.10 150.74L475.20 151.48L474.84 152.22L476.55 152.96L477.48 153.70L477.71 154.43M482.50 144.84L482.34 145.58L481.68 146.32L480.09 147.06L479.31 147.79L484.11 148.53L492.50 149.27L492.50 150.01L489.26 150.74L480.93 151.48L479.30 152.22L480.93 152.96L482.10 153.70L482.44 154.43L482.49 155.17M487.00 144.84L486.94 145.58L486.60 146.32L485.44 147.06L483.80 147.79L485.40 148.53L493.72 149.27L497.00 150.01L497.00 150.74L488.65 151.48L483.81 152.22L484.59 152.96L486.18 153.70L486.84 154.43L486.98 155.17M491.50 145.58L491.39 146.32L490.86 147.06L489.42 147.79L488.18 148.53L491.73 149.27L501.22 150.01L501.50 150.74L500.06 151.48L490.93 152.22L488.19 152.96L489.63 153.70L490.97 154.43L491.41 155.17L491.49 155.91M496.25 146.32L496.12 147.06L495.55 147.79L494.04 148.53L492.96 149.27L497.00 150.01L506.25 150.74L506.25 151.48L504.11 152.22L495.25 152.96L492.97 153.70L494.50 154.43L495.77 155.17L496.17 155.91L496.24 156.65M500.75 147.06L500.65 147.79L500.19 148.53L498.82 149.27L497.43 150.01L500.39 150.74L509.65 151.48L510.75 152.22L510.15 152.96L500.74 153.70L497.43 154.43L498.73 155.17L500.14 155.91L500.64 156.65L500.74 157.38M505.50 148.53L505.19 149.27L504.19 150.01L502.48 150.74L503.22 151.48L510.63 152.22L515.50 152.96L515.50 153.70L508.53 154.43L502.58 155.17L502.81 155.91L504.49 156.65L505.29 157.38L505.47 158.12M510.00 149.27L509.89 150.01L509.39 150.74L507.96 151.48L506.68 152.22L510.05 152.96L519.48 153.70L520.00 154.43L518.82 155.17L509.59 155.91L506.68 156.65L508.08 157.38L509.45 158.12L509.91 158.86L509.99 159.60M514.50 150.74L514.33 151.48L513.65 152.22L512.04 152.96L511.34 153.70L516.35 154.43L524.50 155.17L524.50 155.91L520.98 156.65L512.79 157.38L511.32 158.12L512.98 158.86L514.11 159.60L514.44 160.34L514.49 161.07M519.25 152.22L519.07 152.96L518.36 153.70L516.72 154.43L516.15 155.17L521.44 155.91L529.25 156.65L529.25 157.38L525.33 158.12L517.36 158.86L516.11 159.60L517.79 160.34L518.89 161.07L519.20 161.81L519.24 162.55M523.75 153.70L523.61 154.43L523.02 155.17L521.48 155.91L520.48 156.65L524.75 157.38L533.75 158.12L533.75 158.86L531.29 159.60L522.57 160.34L520.49 161.07L522.06 161.81L523.29 162.55L523.68 163.29L523.74 164.02M528.25 155.17L528.18 155.91L527.79 156.65L526.54 157.38L524.98 158.12L527.11 158.86L535.86 159.60L538.25 160.34L538.25 161.07L529.19 161.81L524.98 162.55L525.99 163.29L527.52 164.02L528.11 164.76L528.23 165.50M533.00 157.38L532.79 158.12L532.01 158.86L530.34 159.60L530.04 160.34L535.88 161.07L543.00 161.81L543.00 162.55L538.30 163.29L530.79 164.02L529.96 164.76L531.66 165.50L532.68 166.24L532.95 166.98M537.50 158.86L537.44 159.60L537.10 160.34L535.95 161.07L534.31 161.81L535.87 162.55L544.14 163.29L547.50 164.02L547.50 164.76L539.21 165.50L534.32 166.24L535.07 166.98L536.67 167.71L537.34 168.45L537.48 169.19M542.00 161.07L541.90 161.81L541.43 162.55L540.04 163.29L538.68 164.02L541.75 164.76L551.05 165.50L552.00 166.24L551.25 166.98L541.88 167.71L538.68 168.45L540.00 169.19L541.41 169.93L541.90 170.67L541.99 171.40M546.75 163.29L546.63 164.02L546.08 164.76L544.60 165.50L543.44 166.24L547.24 166.98L556.75 167.71L556.75 168.45L554.96 169.19L545.96 169.93L543.45 170.67L544.94 171.40L546.24 172.14L546.67 172.88L546.74 173.62M551.25 165.50L551.13 166.24L550.60 166.98L549.14 167.71L547.94 168.45L551.58 169.19L561.11 169.93L561.25 170.67L559.67 171.40L550.59 172.14L547.94 172.88L549.40 173.62L550.73 174.35L551.16 175.09L551.24 175.83M556.00 167.71L555.91 168.45L555.47 169.19L554.14 169.93L552.69 170.67L555.39 171.40L564.51 172.14L566.00 172.88L565.78 173.62L556.27 174.35L552.68 175.09L553.91 175.83L555.36 176.57L555.89 177.31L555.99 178.04M560.50 169.93L560.45 170.67L560.14 171.40L559.06 172.14L557.37 172.88L558.57 173.62L566.49 174.35L570.50 175.09L570.50 175.83L562.76 176.57L557.42 177.31L557.96 178.04L559.60 178.78L560.32 179.52L560.48 180.26M565.00 172.88L564.80 173.62L564.05 174.35L562.39 175.09L561.98 175.83L567.60 176.57L575.00 177.31L575.00 178.04L570.61 178.78L562.91 179.52L561.92 180.26L563.62 180.99L564.66 181.73L564.95 182.47M569.75 175.09L569.67 175.83L569.24 176.57L567.94 177.31L566.45 178.04L568.96 178.78L577.96 179.52L579.75 180.26L579.75 180.99L570.24 181.73L566.44 182.47L567.60 183.21L569.08 183.95L569.63 184.68L569.74 185.42M574.25 178.04L574.04 178.78L573.26 179.52L571.59 180.26L571.30 180.99L577.16 181.73L584.25 182.47L584.25 183.21L579.52 183.95L572.02 184.68L571.21 185.42L572.92 186.16L573.93 186.90L574.20 187.63M579.00 180.26L578.94 180.99L578.59 181.73L577.42 182.47L575.79 183.21L577.45 183.95L585.82 184.68L589.00 185.42L589.00 186.16L580.57 186.90L575.80 187.63L576.60 188.37L578.19 189.11L578.84 189.85L578.98 190.59M583.50 183.21L583.38 183.95L582.84 184.68L581.36 185.42L580.19 186.16L583.94 186.90L593.50 187.63L593.50 188.37L591.77 189.11L582.75 189.85L580.20 190.59L581.68 191.32L582.99 192.06L583.42 192.80L583.49 193.54M588.00 186.16L587.81 186.90L587.07 187.63L585.42 188.37L584.96 189.11L590.47 189.85L598.00 190.59L598.00 191.32L593.75 192.06L585.97 192.80L584.90 193.54L586.59 194.27L587.66 195.01L587.95 195.75L588.00 196.49M592.75 189.11L592.49 189.85L591.58 190.59L589.87 191.32L590.14 192.06L596.92 192.80L602.75 193.54L602.75 194.27L596.70 195.01L590.08 195.75L589.91 196.49L591.61 197.23L592.50 197.96L592.72 198.70M597.25 192.06L596.93 192.80L595.90 193.54L594.20 194.27L595.06 195.01L602.60 195.75L607.25 196.49L607.25 197.23L600.08 197.96L594.28 198.70L594.60 199.44L596.27 200.18L597.05 200.92L597.22 201.65M601.75 194.27L601.70 195.01L601.39 195.75L600.31 196.49L598.63 197.23L599.81 197.96L607.72 198.70L611.75 199.44L611.75 200.18L604.03 200.92L598.67 201.65L599.21 202.39L600.84 203.13L601.57 203.87L601.73 204.60M606.50 197.23L606.45 197.96L606.14 198.70L605.05 199.44L603.37 200.18L604.59 200.92L612.55 201.65L616.50 202.39L616.50 203.13L608.72 203.87L603.41 204.60L603.97 205.34L605.60 206.08L606.32 206.82L606.48 207.56M611.50 200.92L611.16 201.65L610.12 202.39L608.42 203.13L609.41 203.87L617.10 204.60L621.50 205.34L621.50 206.08L614.10 206.82L608.48 207.56L608.89 208.29L610.55 209.03L611.30 209.77L611.48 210.51M615.75 203.87L615.46 204.60L614.50 205.34L612.79 206.08L613.32 206.82L620.45 207.56L625.75 208.29L625.75 209.03L619.19 209.77L612.93 210.51L612.99 211.24L614.68 211.98L615.52 212.72L615.72 213.46M620.25 206.82L620.02 207.56L619.19 208.29L617.50 209.03L617.42 209.77L623.64 210.51L630.25 211.24L630.25 211.98L625.00 212.72L617.83 213.46L617.28 214.20L619.00 214.93L619.96 215.67L620.21 216.41M624.75 209.77L624.58 210.51L623.91 211.24L622.30 211.98L621.59 212.72L626.56 213.46L634.75 214.20L634.75 214.93L631.28 215.67L623.06 216.41L621.57 217.15L623.22 217.88L624.36 218.62L624.69 219.36L624.74 220.10M629.50 212.72L629.39 213.46L628.88 214.20L627.44 214.93L626.18 215.67L629.62 216.41L639.09 217.15L639.50 217.88L638.21 218.62L629.02 219.36L626.18 220.10L627.60 220.84L628.96 221.57L629.41 222.31L629.49 223.05M634.00 215.67L633.93 216.41L633.58 217.15L632.38 217.88L630.77 218.62L632.58 219.36L641.07 220.10L644.00 220.84L644.00 221.57L635.36 222.31L630.77 223.05L631.65 223.79L633.22 224.52L633.85 225.26L633.98 226.00M638.50 219.36L638.24 220.10L637.33 220.84L635.62 221.57L635.90 222.31L642.70 223.05L648.50 223.79L648.50 224.52L642.42 225.26L635.82 226.00L635.66 226.74L637.37 227.48L638.25 228.21L638.47 228.95M643.25 222.31L643.10 223.05L642.47 223.79L640.91 224.52L640.02 225.26L644.58 226.00L653.25 226.74L653.25 227.48L650.36 228.21L641.85 228.95L640.02 229.69L641.63 230.43L642.82 231.16L643.18 231.90L643.24 232.64M648.00 225.26L647.92 226.00L647.53 226.74L646.28 227.48L644.72 228.21L646.91 228.95L655.70 229.69L658.00 230.43L658.00 231.16L648.87 231.90L644.72 232.64L645.76 233.38L647.28 234.12L647.87 234.85L647.98 235.59M652.50 228.95L652.25 229.69L651.37 230.43L649.66 231.16L649.82 231.90L656.42 232.64L662.50 233.38L662.50 234.12L656.70 234.85L649.90 235.59L649.62 236.33L651.33 237.07L652.24 237.81L652.46 238.54M657.00 231.90L656.88 232.64L656.34 233.38L654.86 234.12L653.69 234.85L657.45 235.59L667.00 236.33L667.00 237.07L665.26 237.81L656.24 238.54L653.70 239.28L655.18 240.02L656.49 240.76L656.92 241.49L656.99 242.23M661.50 234.85L661.45 235.59L661.16 236.33L660.10 237.07L658.40 237.81L659.46 238.54L667.23 239.28L671.50 240.02L671.50 240.76L663.99 241.49L658.46 242.23L658.91 242.97L660.57 243.71L661.31 244.45L661.48 245.18M666.00 238.54L665.85 239.28L665.20 240.02L663.62 240.76L662.79 241.49L667.50 242.23L676.00 242.97L676.00 243.71L672.91 244.45L664.49 245.18L662.78 245.92L664.41 246.66L665.59 247.40L665.94 248.13L665.99 248.87M670.75 241.49L670.69 242.23L670.35 242.97L669.21 243.71L667.56 244.45L669.11 245.18L677.37 245.92L680.75 246.66L680.75 247.40L672.48 248.13L667.57 248.87L668.32 249.61L669.92 250.35L670.59 251.09L670.73 251.82M675.25 245.18L675.08 245.92L674.40 246.66L672.79 247.40L672.10 248.13L677.12 248.87L685.25 249.61L685.25 250.35L681.71 251.09L673.53 251.82L672.08 252.56L673.73 253.30L674.86 254.04L675.19 254.77L675.24 255.51M680.00 248.13L679.94 248.87L679.60 249.61L678.45 250.35L676.81 251.09L678.37 251.82L686.65 252.56L690.00 253.30L690.00 254.04L681.71 254.77L676.82 255.51L677.57 256.25L679.17 256.99L679.84 257.73L679.98 258.46M684.50 251.82L684.34 252.56L683.69 253.30L682.10 254.04L681.30 254.77L686.06 255.51L694.50 256.25L694.50 256.99L691.32 257.73L682.95 258.46L681.29 259.20L682.92 259.94L684.09 260.68L684.44 261.41L684.49 262.15M689.25 254.77L689.20 255.51L688.90 256.25L687.82 256.99L686.13 257.73L687.29 258.46L695.16 259.20L699.25 259.94L699.25 260.68L691.58 261.41L686.18 262.15L686.70 262.89L688.34 263.63L689.06 264.37L689.23 265.10M693.75 258.46L693.62 259.20L693.05 259.94L691.55 260.68L690.46 261.41L694.46 262.15L703.75 262.89L703.75 263.63L701.66 264.37L692.79 265.10L690.46 265.84L691.99 266.58L693.27 267.32L693.67 268.05L693.74 268.79M698.25 262.15L697.97 262.89L697.03 263.63L695.32 264.37L695.75 265.10L702.76 265.84L708.25 266.58L708.25 267.32L701.87 268.05L695.48 268.79L695.46 269.53L697.16 270.27L698.01 271.01L698.22 271.74M702.50 265.10L702.41 265.84L701.96 266.58L700.61 267.32L699.18 268.05L702.00 268.79L711.18 269.53L712.50 270.27L712.12 271.01L702.65 271.74L699.18 272.48L700.44 273.22L701.87 273.96L702.39 274.69L702.49 275.43M707.50 268.79L707.30 269.53L706.55 270.27L704.89 271.01L704.48 271.74L710.10 272.48L717.50 273.22L717.50 273.96L713.11 274.69L705.41 275.43L704.42 276.17L706.12 276.91L707.16 277.65L707.45 278.38M712.50 271.74L712.44 272.48L712.12 273.22L711.00 273.96L709.34 274.69L710.73 275.43L718.85 276.17L722.50 276.91L722.50 277.65L714.46 278.38L709.36 279.12L710.02 279.86L711.64 280.60L712.33 281.34L712.48 282.07M716.75 275.43L716.63 276.17L716.08 276.91L714.60 277.65L713.44 278.38L717.23 279.12L726.75 279.86L726.75 280.60L724.96 281.34L715.96 282.07L713.45 282.81L714.94 283.55L716.24 284.29L716.67 285.02L716.74 285.76M721.25 279.12L721.01 279.86L720.17 280.60L718.47 281.34L718.46 282.07L724.80 282.81L731.25 283.55L731.25 284.29L725.83 285.02L718.78 285.76L718.31 286.50L720.02 287.24L720.97 287.98L721.21 288.71M726.00 282.07L725.93 282.81L725.58 283.55L724.39 284.29L722.77 285.02L724.55 285.76L733.01 286.50L736.00 287.24L736.00 287.98L727.41 288.71L722.78 289.45L723.64 290.19L725.21 290.93L725.85 291.66L725.98 292.40M730.50 285.76L730.37 286.50L729.80 287.24L728.30 287.98L727.21 288.71L731.21 289.45L740.50 290.19L740.50 290.93L738.42 291.66L729.54 292.40L727.21 293.14L728.74 293.88L730.02 294.62L730.42 295.35L730.49 296.09M735.00 289.45L734.77 290.19L733.92 290.93L732.23 291.66L732.20 292.40L738.51 293.14L745.00 293.88L745.00 294.62L739.62 295.35L732.54 296.09L732.05 296.83L733.76 297.57L734.72 298.30L734.96 299.04M739.75 292.40L739.69 293.14L739.35 293.88L738.20 294.62L736.56 295.35L738.12 296.09L746.39 296.83L749.75 297.57L749.75 298.30L741.46 299.04L736.57 299.78L737.32 300.52L738.92 301.26L739.59 301.99L739.73 302.73M744.25 296.09L744.14 296.83L743.62 297.57L742.17 298.30L740.93 299.04L744.46 299.78L753.95 300.52L754.25 301.26L752.84 301.99L743.70 302.73L740.93 303.47L742.37 304.21L743.71 304.94L744.16 305.68L744.24 306.42M749.00 299.78L748.80 300.52L748.05 301.26L746.39 301.99L745.99 302.73L751.61 303.47L759.00 304.21L759.00 304.94L754.59 305.68L746.90 306.42L745.92 307.16L747.62 307.90L748.66 308.63L748.95 309.37M753.50 303.47L753.18 304.21L752.15 304.94L750.45 305.68L751.31 306.42L758.87 307.16L763.50 307.90L763.50 308.63L756.31 309.37L750.53 310.11L750.85 310.85L752.52 311.58L753.30 312.32L753.47 313.06M758.00 306.42L757.92 307.16L757.50 307.90L756.19 308.63L754.70 309.37L757.20 310.11L766.20 310.85L768.00 311.58L768.00 312.32L758.50 313.06L754.69 313.80L755.85 314.54L757.33 315.27L757.88 316.01L757.99 316.75M762.50 310.11L762.36 310.85L761.75 311.58L760.21 312.32L759.24 313.06L763.60 313.80L772.50 314.54L772.50 315.27L769.90 316.01L761.25 316.75L759.24 317.49L760.83 318.23L762.05 318.96L762.43 319.70L762.49 320.44M767.25 313.80L767.02 314.54L766.19 315.27L764.50 316.01L764.42 316.75L770.64 317.49L777.25 318.23L777.25 318.96L772.00 319.70L764.83 320.44L764.28 321.18L766.00 321.91L766.96 322.65L767.21 323.39M771.75 316.75L771.70 317.49L771.40 318.23L770.32 318.96L768.64 319.70L769.78 320.44L777.65 321.18L781.75 321.91L781.75 322.65L774.09 323.39L768.68 324.13L769.19 324.87L770.84 325.60L771.56 326.34L771.73 327.08M776.50 320.44L776.41 321.18L775.98 321.91L774.65 322.65L773.19 323.39L775.83 324.13L784.91 324.87L786.50 325.60L786.37 326.34L776.84 327.08L773.19 327.82L774.39 328.55L775.85 329.29L776.38 330.03L776.49 330.77M781.00 324.13L780.86 324.87L780.26 325.60L778.72 326.34L777.74 327.08L782.04 327.82L791.00 328.55L791.00 329.29L788.48 330.03L779.79 330.77L777.74 331.51L779.31 332.24L780.55 332.98L780.93 333.72L780.99 334.46M785.50 327.82L785.29 328.55L784.49 329.29L782.81 330.03L782.58 330.77L788.55 331.51L795.50 332.24L795.50 332.98L790.61 333.72L783.22 334.46L782.48 335.19L784.19 335.93L785.19 336.67L785.46 337.41M790.25 331.51L789.93 332.24L788.92 332.98L787.21 333.72L788.02 334.46L795.51 335.19L800.25 335.93L800.25 336.67L793.17 337.41L787.30 338.15L787.58 338.88L789.26 339.62L790.04 340.36L790.22 341.10M794.75 334.46L794.68 335.19L794.30 335.93L793.06 336.67L791.49 337.41L793.56 338.15L802.26 338.88L804.75 339.62L804.75 340.36L795.77 341.10L791.49 341.83L792.48 342.57L794.01 343.31L794.61 344.05L794.73 344.79M799.25 338.15L799.14 338.88L798.62 339.62L797.18 340.36L795.93 341.10L799.42 341.83L808.90 342.57L809.25 343.31L807.89 344.05L798.73 344.79L795.93 345.52L797.36 346.26L798.71 347.00L799.16 347.74L799.24 348.47M804.00 341.83L803.83 342.57L803.16 343.31L801.55 344.05L800.84 344.79L805.82 345.52L814.00 346.26L814.00 347.00L810.51 347.74L802.30 348.47L800.82 349.21L802.47 349.95L803.61 350.69L803.94 351.43L803.99 352.16M808.50 345.52L808.26 346.26L807.40 347.00L805.70 347.74L805.75 348.47L812.17 349.21L818.50 349.95L818.50 350.69L812.96 351.43L805.99 352.16L805.58 352.90L807.29 353.64L808.22 354.38L808.46 355.12M813.25 349.21L812.91 349.95L811.86 350.69L810.17 351.43L811.17 352.16L818.88 352.90L823.25 353.64L823.25 354.38L815.83 355.12L810.23 355.85L810.65 356.59L812.30 357.33L813.06 358.07L813.23 358.80M817.75 352.16L817.68 352.90L817.29 353.64L816.04 354.38L814.48 355.12L816.61 355.85L825.36 356.59L827.75 357.33L827.75 358.07L818.69 358.80L814.48 359.54L815.49 360.28L817.02 361.02L817.61 361.76L817.73 362.49M822.25 355.85L822.14 356.59L821.64 357.33L820.21 358.07L818.93 358.80L822.31 359.54L831.75 360.28L832.25 361.02L831.05 361.76L821.83 362.49L818.93 363.23L820.34 363.97L821.70 364.71L822.16 365.44L822.24 366.18M827.00 359.54L826.85 360.28L826.20 361.02L824.62 361.76L823.79 362.49L828.47 363.23L837.00 363.97L837.00 364.71L833.93 365.44L825.51 366.18L823.78 366.92L825.41 367.66L826.58 368.40L826.94 369.13L826.99 369.87M831.50 363.23L831.29 363.97L830.49 364.71L828.81 365.44L828.58 366.18L834.55 366.92L841.50 367.66L841.50 368.40L836.61 369.13L829.21 369.87L828.48 370.61L830.19 371.35L831.19 372.08L831.46 372.82M836.00 366.92L835.71 367.66L834.75 368.40L833.03 369.13L833.58 369.87L840.74 370.61L846.00 371.35L846.00 372.08L839.40 372.82L833.17 373.56L833.25 374.30L834.94 375.04L835.77 375.77L835.97 376.51M840.75 369.87L840.69 370.61L840.36 371.35L839.23 372.08L837.57 372.82L839.04 373.56L847.22 374.30L850.75 375.04L850.75 375.77L842.60 376.51L837.59 377.25L838.29 377.99L839.90 378.72L840.58 379.46L840.73 380.20" fill="none" stroke="#000" stroke-width="0.85" stroke-linejoin="round"/>
<path d="M110.25 437.75L110.14 438.49L109.65 439.22L108.24 439.96L106.93 440.70L110.20 441.44L119.60 442.18L120.25 442.91L119.20 443.65L109.93 444.39L106.93 445.13L108.31 445.86L109.68 446.60L110.15 447.34L110.24 448.08M114.50 435.54L114.44 436.27L114.10 437.01L112.95 437.75L111.31 438.49L112.87 439.22L121.14 439.96L124.50 440.70L124.50 441.44L116.21 442.18L111.32 442.91L112.07 443.65L113.67 444.39L114.34 445.13L114.48 445.86M119.50 434.06L119.26 434.80L118.39 435.54L116.69 436.27L116.77 437.01L123.26 437.75L129.50 438.49L129.50 439.22L123.87 439.96L116.96 440.70L116.59 441.44L118.30 442.18L119.23 442.91L119.46 443.65M124.25 431.85L124.11 432.58L123.51 433.32L121.97 434.06L120.99 434.80L125.28 435.54L134.25 436.27L134.25 437.01L131.75 437.75L123.05 438.49L120.99 439.22L122.56 439.96L123.80 440.70L124.18 441.44L124.24 442.18M128.75 429.63L128.68 430.37L128.30 431.11L127.06 431.85L125.49 432.58L127.55 433.32L136.24 434.06L138.75 434.80L138.75 435.54L129.78 436.27L125.49 437.01L126.47 437.75L128.01 438.49L128.61 439.22L128.73 439.96M133.25 428.16L133.00 428.90L132.11 429.63L130.40 430.37L130.58 431.11L137.21 431.85L143.25 432.58L143.25 433.32L137.42 434.06L130.64 434.80L130.37 435.54L132.08 436.27L132.99 437.01L133.21 437.75M138.00 425.94L137.87 426.68L137.30 427.42L135.80 428.16L134.71 428.90L138.70 429.63L148.00 430.37L148.00 431.11L145.93 431.85L137.04 432.58L134.71 433.32L136.24 434.06L137.52 434.80L137.92 435.54L137.99 436.27M142.50 423.73L142.44 424.47L142.12 425.21L140.99 425.94L139.33 426.68L140.75 427.42L148.90 428.16L152.50 428.90L152.50 429.63L144.41 430.37L139.35 431.11L140.03 431.85L141.64 432.58L142.33 433.32L142.48 434.06M147.00 422.25L146.81 422.99L146.08 423.73L144.44 424.47L143.93 425.21L149.36 425.94L157.00 426.68L157.00 427.42L152.89 428.16L145.02 428.90L143.89 429.63L145.57 430.37L146.65 431.11L146.95 431.85L147.00 432.58M151.75 420.04L151.67 420.78L151.26 421.52L149.98 422.25L148.46 422.99L150.83 423.73L159.74 424.47L161.75 425.21L161.75 425.94L152.40 426.68L148.45 427.42L149.56 428.16L151.06 428.90L151.62 429.63L151.74 430.37M156.25 418.57L156.02 419.30L155.20 420.04L153.50 420.78L153.41 421.52L159.62 422.25L166.25 422.99L166.25 423.73L161.03 424.47L153.84 425.21L153.28 425.94L154.99 426.68L155.96 427.42L156.21 428.16M161.00 416.35L160.91 417.09L160.46 417.83L159.12 418.57L157.68 419.30L160.47 420.04L169.63 420.78L171.00 421.52L170.66 422.25L161.18 422.99L157.68 423.73L158.93 424.47L160.37 425.21L160.89 425.94L160.99 426.68M165.50 414.88L165.27 415.61L164.42 416.35L162.72 417.09L162.71 417.83L169.03 418.57L175.50 419.30L175.50 420.04L170.10 420.78L163.03 421.52L162.55 422.25L164.27 422.99L165.22 423.73L165.46 424.47M170.00 412.66L169.91 413.40L169.49 414.14L168.17 414.88L166.69 415.61L169.28 416.35L178.33 417.09L180.00 417.83L179.95 418.57L170.40 419.30L166.69 420.04L167.87 420.78L169.34 421.52L169.88 422.25L169.99 422.99M174.75 411.19L174.55 411.93L173.77 412.66L172.11 413.40L171.78 414.14L177.55 414.88L184.75 415.61L184.75 416.35L180.14 417.09L172.57 417.83L171.70 418.57L173.40 419.30L174.43 420.04L174.70 420.78M179.25 408.97L179.18 409.71L178.83 410.45L177.64 411.19L176.02 411.93L177.81 412.66L186.28 413.40L189.25 414.14L189.25 414.88L180.64 415.61L176.03 416.35L176.89 417.09L178.46 417.83L179.10 418.57L179.23 419.30M183.75 407.50L183.60 408.24L182.98 408.97L181.42 409.71L180.51 410.45L185.01 411.19L193.75 411.93L193.75 412.66L190.95 413.40L182.39 414.14L180.51 414.88L182.11 415.61L183.32 416.35L183.68 417.09L183.74 417.83M188.50 406.02L188.21 406.76L187.25 407.50L185.54 408.24L186.08 408.97L193.22 409.71L198.50 410.45L198.50 411.19L191.92 411.93L185.68 412.66L185.74 413.40L187.44 414.14L188.27 414.88L188.47 415.61M193.00 403.81L192.91 404.55L192.49 405.29L191.17 406.02L189.69 406.76L192.26 407.50L201.30 408.24L203.00 408.97L202.98 409.71L193.42 410.45L189.69 411.19L190.87 411.93L192.34 412.66L192.88 413.40L192.99 414.14M197.75 402.33L197.59 403.07L196.93 403.81L195.34 404.55L194.56 405.29L199.40 406.02L207.75 406.76L207.75 407.50L204.47 408.24L196.15 408.97L194.55 409.71L196.19 410.45L197.35 411.19L197.69 411.93L197.74 412.66M202.25 400.86L201.98 401.60L201.05 402.33L199.33 403.07L199.72 403.81L206.65 404.55L212.25 405.29L212.25 406.02L205.97 406.76L199.51 407.50L199.44 408.24L201.14 408.97L202.01 409.71L202.22 410.45M206.75 398.65L206.68 399.38L206.32 400.12L205.12 400.86L203.51 401.60L205.37 402.33L213.91 403.07L216.75 403.81L216.75 404.55L208.04 405.29L203.52 406.02L204.41 406.76L205.98 407.50L206.60 408.24L206.73 408.97M211.50 397.17L211.39 397.91L210.88 398.65L209.44 399.38L208.18 400.12L211.64 400.86L221.11 401.60L221.50 402.33L220.19 403.07L211.01 403.81L208.18 404.55L209.61 405.29L210.96 406.02L211.41 406.76L211.49 407.50M216.00 395.69L215.83 396.43L215.15 397.17L213.54 397.91L212.84 398.65L217.84 399.38L226.00 400.12L226.00 400.86L222.48 401.60L214.29 402.33L212.82 403.07L214.48 403.81L215.61 404.55L215.94 405.29L215.99 406.02M220.50 394.22L220.26 394.96L219.42 395.69L217.72 396.43L217.71 397.17L224.05 397.91L230.50 398.65L230.50 399.38L225.08 400.12L218.03 400.86L217.56 401.60L219.27 402.33L220.22 403.07L220.46 403.81M225.25 392.74L224.94 393.48L223.94 394.22L222.23 394.96L222.97 395.69L230.36 396.43L235.25 397.17L235.25 397.91L228.30 398.65L222.33 399.38L222.56 400.12L224.24 400.86L225.04 401.60L225.22 402.33M229.75 390.53L229.69 391.27L229.37 392.01L228.24 392.74L226.58 393.48L228.02 394.22L236.19 394.96L239.75 395.69L239.75 396.43L231.63 397.17L226.60 397.91L227.29 398.65L228.90 399.38L229.58 400.12L229.73 400.86M234.50 389.05L234.43 389.79L234.05 390.53L232.82 391.27L231.24 392.01L233.29 392.74L241.97 393.48L244.50 394.22L244.50 394.96L235.55 395.69L231.24 396.43L232.22 397.17L233.76 397.91L234.36 398.65L234.48 399.38M239.00 387.58L238.92 388.32L238.50 389.05L237.19 389.79L235.70 390.53L238.19 391.27L247.19 392.01L249.00 392.74L249.00 393.48L239.50 394.22L235.69 394.96L236.85 395.69L238.33 396.43L238.88 397.17L238.99 397.91M243.50 386.10L243.41 386.84L242.96 387.58L241.62 388.32L240.18 389.05L242.94 389.79L252.09 390.53L253.50 391.27L253.20 392.01L243.71 392.74L240.18 393.48L241.42 394.22L242.87 394.96L243.39 395.69L243.49 396.43M248.00 384.63L247.91 385.37L247.46 386.10L246.11 386.84L244.68 387.58L247.50 388.32L256.68 389.05L258.00 389.79L257.61 390.53L248.14 391.27L244.68 392.01L245.94 392.74L247.38 393.48L247.89 394.22L247.99 394.96M252.75 383.15L252.66 383.89L252.23 384.63L250.90 385.37L249.44 386.10L252.11 386.84L261.21 387.58L262.75 388.32L262.57 389.05L253.05 389.79L249.43 390.53L250.65 391.27L252.10 392.01L252.63 392.74L252.74 393.48M257.25 381.68L257.17 382.41L256.77 383.15L255.49 383.89L253.96 384.63L256.29 385.37L265.17 386.10L267.25 386.84L267.25 387.58L257.96 388.32L253.96 389.05L255.05 389.79L256.55 390.53L257.12 391.27L257.24 392.01M262.00 380.20L261.93 380.94L261.58 381.68L260.39 382.41L258.77 383.15L260.56 383.89L269.04 384.63L272.00 385.37L272.00 386.10L263.39 386.84L258.78 387.58L259.64 388.32L261.21 389.05L261.85 389.79L261.98 390.53M266.50 378.72L266.45 379.46L266.15 380.20L265.08 380.94L263.39 381.68L264.50 382.41L272.32 383.15L276.50 383.89L276.50 384.63L268.91 385.37L263.44 386.10L263.93 386.84L265.58 387.58L266.31 388.32L266.48 389.05M271.00 377.99L270.73 378.72L269.81 379.46L268.10 380.20L268.44 380.94L275.30 381.68L281.00 382.41L281.00 383.15L274.82 383.89L268.29 384.63L268.18 385.37L269.88 386.10L270.75 386.84L270.97 387.58M275.75 376.51L275.56 377.25L274.81 377.99L273.15 378.72L272.72 379.46L278.30 380.20L285.75 380.94L285.75 381.68L281.41 382.41L273.68 383.15L272.66 383.89L274.36 384.63L275.41 385.37L275.70 386.10M280.25 375.04L280.12 375.77L279.55 376.51L278.05 377.25L276.96 377.99L280.97 378.72L290.25 379.46L290.25 380.20L288.15 380.94L279.28 381.68L276.96 382.41L278.49 383.15L279.77 383.89L280.17 384.63L280.24 385.37M285.00 373.56L284.92 374.30L284.52 375.04L283.25 375.77L281.72 376.51L284.00 377.25L292.86 377.99L295.00 378.72L295.00 379.46L285.75 380.20L281.71 380.94L282.79 381.68L284.30 382.41L284.87 383.15L284.99 383.89M289.50 372.82L289.20 373.56L288.22 374.30L286.51 375.04L287.15 375.77L294.42 376.51L299.50 377.25L299.50 377.99L292.73 378.72L286.63 379.46L286.78 380.20L288.46 380.94L289.28 381.68L289.47 382.41M294.00 371.35L293.83 372.08L293.15 372.82L291.54 373.56L290.85 374.30L295.88 375.04L304.00 375.77L304.00 376.51L300.44 377.25L292.27 377.99L290.83 378.72L292.49 379.46L293.62 380.20L293.94 380.94L293.99 381.68M298.75 369.87L298.67 370.61L298.24 371.35L296.94 372.08L295.45 372.82L297.97 373.56L306.98 374.30L308.75 375.04L308.75 375.77L299.22 376.51L295.44 377.25L296.61 377.99L298.08 378.72L298.63 379.46L298.74 380.20M303.25 369.13L302.98 369.87L302.07 370.61L300.36 371.35L300.66 372.08L307.48 372.82L313.25 373.56L313.25 374.30L307.14 375.04L300.56 375.77L300.41 376.51L302.12 377.25L303.00 377.99L303.22 378.72M307.50 367.66L307.38 368.40L306.84 369.13L305.36 369.87L304.19 370.61L307.95 371.35L317.50 372.08L317.50 372.82L315.76 373.56L306.74 374.30L304.20 375.04L305.68 375.77L306.99 376.51L307.42 377.25L307.49 377.99M312.50 366.92L312.18 367.66L311.16 368.40L309.46 369.13L310.29 369.87L317.80 370.61L322.50 371.35L322.50 372.08L315.38 372.82L309.54 373.56L309.84 374.30L311.51 375.04L312.29 375.77L312.47 376.51M316.50 365.44L316.37 366.18L315.80 366.92L314.30 367.66L313.21 368.40L317.20 369.13L326.50 369.87L326.50 370.61L324.42 371.35L315.54 372.08L313.21 372.82L314.74 373.56L316.02 374.30L316.42 375.04L316.49 375.77M321.75 364.71L321.45 365.44L320.48 366.18L318.76 366.92L319.38 367.66L326.63 368.40L331.75 369.13L331.75 369.87L325.02 370.61L318.89 371.35L319.02 372.08L320.71 372.82L321.53 373.56L321.72 374.30M326.25 363.23L326.15 363.97L325.66 364.71L324.26 365.44L322.93 366.18L326.10 366.92L335.45 367.66L336.25 368.40L335.35 369.13L326.03 369.87L322.93 370.61L324.28 371.35L325.67 372.08L326.15 372.82L326.24 373.56M330.75 362.49L330.54 363.23L329.75 363.97L328.07 364.71L327.82 365.44L333.75 366.18L340.75 366.92L340.75 367.66L335.92 368.40L328.49 369.13L327.73 369.87L329.43 370.61L330.44 371.35L330.71 372.08M335.50 361.02L335.44 361.76L335.12 362.49L333.98 363.23L332.33 363.97L333.77 364.71L341.94 365.44L345.50 366.18L345.50 366.92L337.38 367.66L332.35 368.40L333.04 369.13L334.65 369.87L335.33 370.61L335.48 371.35M340.00 360.28L339.89 361.02L339.38 361.76L337.95 362.49L336.68 363.23L340.11 363.97L349.56 364.71L350.00 365.44L348.73 366.18L339.54 366.92L336.68 367.66L338.10 368.40L339.45 369.13L339.91 369.87L339.99 370.61M344.50 359.54L344.32 360.28L343.60 361.02L341.96 361.76L341.42 362.49L346.76 363.23L354.50 363.97L354.50 364.71L350.49 365.44L342.57 366.18L341.37 366.92L343.06 367.66L344.14 368.40L344.45 369.13L344.50 369.87M349.25 358.80L348.98 359.54L348.04 360.28L346.33 361.02L346.72 361.76L353.67 362.49L359.25 363.23L359.25 363.97L352.96 364.71L346.51 365.44L346.44 366.18L348.15 366.92L349.01 367.66L349.22 368.40M354.00 357.33L353.94 358.07L353.62 358.80L352.50 359.54L350.84 360.28L352.22 361.02L360.32 361.76L364.00 362.49L364.00 363.23L355.98 363.97L350.86 364.71L351.52 365.44L353.14 366.18L353.83 366.92L353.98 367.66M358.50 356.59L358.42 357.33L358.02 358.07L356.76 358.80L355.22 359.54L357.49 360.28L366.33 361.02L368.50 361.76L368.50 362.49L359.27 363.23L355.21 363.97L356.28 364.71L357.79 365.44L358.37 366.18L358.49 366.92M363.00 355.85L362.90 356.59L362.44 357.33L361.07 358.07L359.68 358.80L362.65 359.54L371.90 360.28L373.00 361.02L372.39 361.76L362.99 362.49L359.68 363.23L360.98 363.97L362.40 364.71L362.89 365.44L362.99 366.18M367.50 355.12L367.39 355.85L366.88 356.59L365.45 357.33L364.18 358.07L367.59 358.80L377.04 359.54L377.50 360.28L376.25 361.02L367.05 361.76L364.18 362.49L365.59 363.23L366.95 363.97L367.41 364.71L367.49 365.44M372.00 354.38L371.89 355.12L371.36 355.85L369.91 356.59L368.68 357.33L372.26 358.07L381.76 358.80L382.00 359.54L380.52 360.28L371.40 361.02L368.69 361.76L370.14 362.49L371.47 363.23L371.91 363.97L371.99 364.71M376.75 353.64L376.64 354.38L376.13 355.12L374.69 355.85L373.43 356.59L376.87 357.33L386.33 358.07L386.75 358.80L385.47 359.54L376.28 360.28L373.43 361.02L374.85 361.76L376.20 362.49L376.66 363.23L376.74 363.97M381.25 352.90L381.15 353.64L380.68 354.38L379.31 355.12L377.93 355.85L380.94 356.59L390.22 357.33L391.25 358.07L390.58 358.80L381.19 359.54L377.93 360.28L379.24 361.02L380.65 361.76L381.15 362.49L381.24 363.23M386.00 352.16L385.92 352.90L385.52 353.64L384.24 354.38L382.71 355.12L385.03 355.85L393.91 356.59L396.00 357.33L396.00 358.07L386.71 358.80L382.71 359.54L383.80 360.28L385.30 361.02L385.87 361.76L385.99 362.49M390.50 351.43L390.44 352.16L390.12 352.90L388.99 353.64L387.33 354.38L388.75 355.12L396.90 355.85L400.50 356.59L400.50 357.33L392.42 358.07L387.35 358.80L388.03 359.54L389.64 360.28L390.33 361.02L390.48 361.76M395.25 351.43L394.97 352.16L394.04 352.90L392.33 353.64L392.74 354.38L399.71 355.12L405.25 355.85L405.25 356.59L398.92 357.33L392.49 358.07L392.45 358.80L394.15 359.54L395.01 360.28L395.22 361.02M399.75 350.69L399.57 351.43L398.85 352.16L397.21 352.90L396.66 353.64L402.00 354.38L409.75 355.12L409.75 355.85L405.76 356.59L397.83 357.33L396.62 358.07L398.30 358.80L399.39 359.54L399.70 360.28L399.74 361.02M404.25 349.95L404.14 350.69L403.64 351.43L402.22 352.16L400.93 352.90L404.27 353.64L413.69 354.38L414.25 355.12L413.10 355.85L403.87 356.59L400.93 357.33L402.33 358.07L403.69 358.80L404.15 359.54L404.24 360.28M408.50 349.21L408.44 349.95L408.13 350.69L407.03 351.43L405.36 352.16L406.65 352.90L414.67 353.64L418.50 354.38L418.50 355.12L410.61 355.85L405.39 356.59L405.99 357.33L407.62 358.07L408.32 358.80L408.48 359.54M413.50 349.21L413.31 349.95L412.55 350.69L410.90 351.43L410.48 352.16L416.07 352.90L423.50 353.64L423.50 354.38L419.14 355.12L411.42 355.85L410.42 356.59L412.11 357.33L413.16 358.07L413.45 358.80M418.50 348.47L418.41 349.21L417.97 349.95L416.64 350.69L415.19 351.43L417.88 352.16L426.98 352.90L428.50 353.64L428.30 354.38L418.79 355.12L415.18 355.85L416.40 356.59L417.86 357.33L418.38 358.07L418.49 358.80M422.75 348.47L422.50 349.21L421.63 349.95L419.92 350.69L420.05 351.43L426.61 352.16L432.75 352.90L432.75 353.64L427.02 354.38L420.17 355.12L419.85 355.85L421.57 356.59L422.48 357.33L422.71 358.07M427.25 347.74L427.15 348.47L426.68 349.21L425.31 349.95L423.93 350.69L426.93 351.43L436.20 352.16L437.25 352.90L436.60 353.64L427.20 354.38L423.93 355.12L425.24 355.85L426.65 356.59L427.14 357.33L427.24 358.07M432.00 347.74L431.77 348.47L430.93 349.21L429.24 349.95L429.18 350.69L435.44 351.43L442.00 352.16L442.00 352.90L436.70 353.64L429.57 354.38L429.04 355.12L430.75 355.85L431.71 356.59L431.96 357.33M436.50 347.00L436.43 347.74L436.04 348.47L434.80 349.21L433.23 349.95L435.36 350.69L444.09 351.43L446.50 352.16L446.50 352.90L437.45 353.64L433.23 354.38L434.24 355.12L435.77 355.85L436.36 356.59L436.48 357.33M441.00 347.00L440.85 347.74L440.21 348.47L438.63 349.21L437.78 349.95L442.43 350.69L451.00 351.43L451.00 352.16L447.99 352.90L439.54 353.64L437.78 354.38L439.40 355.12L440.58 355.85L440.93 356.59L440.99 357.33M445.75 347.00L445.48 347.74L444.55 348.47L442.84 349.21L443.21 349.95L450.13 350.69L455.75 351.43L455.75 352.16L449.50 352.90L443.02 353.64L442.94 354.38L444.64 355.12L445.51 355.85L445.72 356.59M450.25 346.26L450.18 347.00L449.82 347.74L448.61 348.47L447.01 349.21L448.89 349.95L457.43 350.69L460.25 351.43L460.25 352.16L451.52 352.90L447.01 353.64L447.92 354.38L449.48 355.12L450.10 355.85L450.23 356.59M455.00 346.26L454.89 347.00L454.39 347.74L452.96 348.47L451.68 349.21L455.07 349.95L464.50 350.69L465.00 351.43L463.79 352.16L454.57 352.90L451.68 353.64L453.09 354.38L454.45 355.12L454.91 355.85L454.99 356.59M459.50 346.26L459.35 347.00L458.70 347.74L457.12 348.47L456.29 349.21L460.99 349.95L469.50 350.69L469.50 351.43L466.42 352.16L458.00 352.90L456.28 353.64L457.91 354.38L459.09 355.12L459.44 355.85L459.49 356.59M464.00 346.26L463.80 347.00L463.04 347.74L461.37 348.47L461.00 349.21L466.70 349.95L474.00 350.69L474.00 351.43L469.50 352.16L461.87 352.90L460.93 353.64L462.63 354.38L463.67 355.12L463.95 355.85M468.75 346.26L468.51 347.00L467.67 347.74L465.97 348.47L465.96 349.21L472.31 349.95L478.75 350.69L478.75 351.43L473.32 352.16L466.27 352.90L465.81 353.64L467.52 354.38L468.47 355.12L468.71 355.85M473.25 346.26L472.99 347.00L472.10 347.74L470.40 348.47L470.59 349.21L477.25 349.95L483.25 350.69L483.25 351.43L477.37 352.16L470.63 352.90L470.38 353.64L472.09 354.38L472.99 355.12L473.21 355.85M477.75 346.26L477.49 347.00L476.60 347.74L474.90 348.47L475.09 349.21L481.75 349.95L487.75 350.69L487.75 351.43L481.87 352.16L475.13 352.90L474.88 353.64L476.59 354.38L477.49 355.12L477.71 355.85M482.50 346.26L482.26 347.00L481.42 347.74L479.72 348.47L479.71 349.21L486.06 349.95L492.50 350.69L492.50 351.43L487.07 352.16L480.02 352.90L479.56 353.64L481.27 354.38L482.22 355.12L482.46 355.85M487.00 346.26L486.80 347.00L486.04 347.74L484.37 348.47L484.00 349.21L489.70 349.95L497.00 350.69L497.00 351.43L492.50 352.16L484.87 352.90L483.93 353.64L485.63 354.38L486.67 355.12L486.95 355.85M491.50 346.26L491.35 347.00L490.70 347.74L489.12 348.47L488.29 349.21L492.99 349.95L501.50 350.69L501.50 351.43L498.42 352.16L490.00 352.90L488.28 353.64L489.91 354.38L491.09 355.12L491.44 355.85L491.49 356.59M496.25 346.26L496.14 347.00L495.64 347.74L494.21 348.47L492.93 349.21L496.32 349.95L505.75 350.69L506.25 351.43L505.04 352.16L495.82 352.90L492.93 353.64L494.34 354.38L495.70 355.12L496.16 355.85L496.24 356.59M500.75 346.26L500.68 347.00L500.32 347.74L499.11 348.47L497.51 349.21L499.39 349.95L507.93 350.69L510.75 351.43L510.75 352.16L502.02 352.90L497.51 353.64L498.42 354.38L499.98 355.12L500.60 355.85L500.73 356.59M505.50 347.00L505.23 347.74L504.30 348.47L502.59 349.21L502.96 349.95L509.88 350.69L515.50 351.43L515.50 352.16L509.25 352.90L502.77 353.64L502.69 354.38L504.39 355.12L505.26 355.85L505.47 356.59M510.00 347.00L509.85 347.74L509.21 348.47L507.63 349.21L506.78 349.95L511.43 350.69L520.00 351.43L520.00 352.16L516.99 352.90L508.54 353.64L506.78 354.38L508.40 355.12L509.58 355.85L509.93 356.59L509.99 357.33M514.50 347.00L514.43 347.74L514.04 348.47L512.80 349.21L511.23 349.95L513.36 350.69L522.09 351.43L524.50 352.16L524.50 352.90L515.45 353.64L511.23 354.38L512.24 355.12L513.77 355.85L514.36 356.59L514.48 357.33M519.25 347.74L519.02 348.47L518.18 349.21L516.49 349.95L516.43 350.69L522.69 351.43L529.25 352.16L529.25 352.90L523.95 353.64L516.82 354.38L516.29 355.12L518.00 355.85L518.96 356.59L519.21 357.33M523.75 347.74L523.65 348.47L523.18 349.21L521.81 349.95L520.43 350.69L523.43 351.43L532.70 352.16L533.75 352.90L533.10 353.64L523.70 354.38L520.43 355.12L521.74 355.85L523.15 356.59L523.64 357.33L523.74 358.07M528.25 348.47L528.00 349.21L527.13 349.95L525.42 350.69L525.55 351.43L532.11 352.16L538.25 352.90L538.25 353.64L532.52 354.38L525.67 355.12L525.35 355.85L527.07 356.59L527.98 357.33L528.21 358.07M533.00 348.47L532.91 349.21L532.47 349.95L531.14 350.69L529.69 351.43L532.38 352.16L541.48 352.90L543.00 353.64L542.80 354.38L533.29 355.12L529.68 355.85L530.90 356.59L532.36 357.33L532.88 358.07L532.99 358.80M537.50 349.21L537.31 349.95L536.55 350.69L534.90 351.43L534.48 352.16L540.07 352.90L547.50 353.64L547.50 354.38L543.14 355.12L535.42 355.85L534.42 356.59L536.11 357.33L537.16 358.07L537.45 358.80M542.00 349.21L541.94 349.95L541.63 350.69L540.53 351.43L538.86 352.16L540.15 352.90L548.17 353.64L552.00 354.38L552.00 355.12L544.11 355.85L538.89 356.59L539.49 357.33L541.12 358.07L541.82 358.80L541.98 359.54M546.75 349.95L546.64 350.69L546.14 351.43L544.72 352.16L543.43 352.90L546.77 353.64L556.19 354.38L556.75 355.12L555.60 355.85L546.37 356.59L543.43 357.33L544.83 358.07L546.19 358.80L546.65 359.54L546.74 360.28M551.25 350.69L551.07 351.43L550.35 352.16L548.71 352.90L548.16 353.64L553.50 354.38L561.25 355.12L561.25 355.85L557.26 356.59L549.33 357.33L548.12 358.07L549.80 358.80L550.89 359.54L551.20 360.28L551.24 361.02M556.00 351.43L555.72 352.16L554.79 352.90L553.08 353.64L553.49 354.38L560.46 355.12L566.00 355.85L566.00 356.59L559.67 357.33L553.24 358.07L553.20 358.80L554.90 359.54L555.76 360.28L555.97 361.02M560.50 351.43L560.44 352.16L560.12 352.90L558.99 353.64L557.33 354.38L558.75 355.12L566.90 355.85L570.50 356.59L570.50 357.33L562.42 358.07L557.35 358.80L558.03 359.54L559.64 360.28L560.33 361.02L560.48 361.76M565.00 352.16L564.92 352.90L564.52 353.64L563.24 354.38L561.71 355.12L564.03 355.85L572.91 356.59L575.00 357.33L575.00 358.07L565.71 358.80L561.71 359.54L562.80 360.28L564.30 361.02L564.87 361.76L564.99 362.49M569.75 352.90L569.65 353.64L569.18 354.38L567.81 355.12L566.43 355.85L569.44 356.59L578.72 357.33L579.75 358.07L579.08 358.80L569.69 359.54L566.43 360.28L567.74 361.02L569.15 361.76L569.65 362.49L569.74 363.23M574.25 353.64L574.14 354.38L573.63 355.12L572.19 355.85L570.93 356.59L574.37 357.33L583.83 358.07L584.25 358.80L582.97 359.54L573.78 360.28L570.93 361.02L572.35 361.76L573.70 362.49L574.16 363.23L574.24 363.97M579.00 354.38L578.89 355.12L578.36 355.85L576.91 356.59L575.68 357.33L579.26 358.07L588.76 358.80L589.00 359.54L587.52 360.28L578.40 361.02L575.69 361.76L577.14 362.49L578.47 363.23L578.91 363.97L578.99 364.71M583.50 355.12L583.39 355.85L582.88 356.59L581.45 357.33L580.18 358.07L583.59 358.80L593.04 359.54L593.50 360.28L592.25 361.02L583.05 361.76L580.18 362.49L581.59 363.23L582.95 363.97L583.41 364.71L583.49 365.44M588.00 355.85L587.90 356.59L587.44 357.33L586.07 358.07L584.68 358.80L587.65 359.54L596.90 360.28L598.00 361.02L597.39 361.76L587.99 362.49L584.68 363.23L585.98 363.97L587.40 364.71L587.89 365.44L587.99 366.18M592.75 356.59L592.67 357.33L592.27 358.07L591.01 358.80L589.47 359.54L591.74 360.28L600.58 361.02L602.75 361.76L602.75 362.49L593.52 363.23L589.46 363.97L590.53 364.71L592.04 365.44L592.62 366.18L592.74 366.92M597.25 357.33L597.19 358.07L596.87 358.80L595.75 359.54L594.09 360.28L595.47 361.02L603.57 361.76L607.25 362.49L607.25 363.23L599.23 363.97L594.11 364.71L594.77 365.44L596.39 366.18L597.08 366.92L597.23 367.66M601.75 358.80L601.48 359.54L600.54 360.28L598.83 361.02L599.22 361.76L606.17 362.49L611.75 363.23L611.75 363.97L605.46 364.71L599.01 365.44L598.94 366.18L600.65 366.92L601.51 367.66L601.72 368.40M606.50 359.54L606.32 360.28L605.60 361.02L603.96 361.76L603.42 362.49L608.76 363.23L616.50 363.97L616.50 364.71L612.49 365.44L604.57 366.18L603.37 366.92L605.06 367.66L606.14 368.40L606.45 369.13L606.50 369.87M611.50 360.28L611.39 361.02L610.88 361.76L609.45 362.49L608.18 363.23L611.61 363.97L621.06 364.71L621.50 365.44L620.23 366.18L611.04 366.92L608.18 367.66L609.60 368.40L610.95 369.13L611.41 369.87L611.49 370.61M615.75 361.02L615.69 361.76L615.37 362.49L614.23 363.23L612.58 363.97L614.02 364.71L622.19 365.44L625.75 366.18L625.75 366.92L617.63 367.66L612.60 368.40L613.29 369.13L614.90 369.87L615.58 370.61L615.73 371.35M620.25 362.49L620.04 363.23L619.25 363.97L617.57 364.71L617.32 365.44L623.25 366.18L630.25 366.92L630.25 367.66L625.42 368.40L617.99 369.13L617.23 369.87L618.93 370.61L619.94 371.35L620.21 372.08M624.75 363.23L624.65 363.97L624.16 364.71L622.76 365.44L621.43 366.18L624.60 366.92L633.95 367.66L634.75 368.40L633.85 369.13L624.53 369.87L621.43 370.61L622.78 371.35L624.17 372.08L624.65 372.82L624.74 373.56M629.50 364.71L629.20 365.44L628.23 366.18L626.51 366.92L627.13 367.66L634.38 368.40L639.50 369.13L639.50 369.87L632.77 370.61L626.64 371.35L626.77 372.08L628.46 372.82L629.28 373.56L629.47 374.30M634.00 365.44L633.87 366.18L633.30 366.92L631.80 367.66L630.71 368.40L634.70 369.13L644.00 369.87L644.00 370.61L641.92 371.35L633.04 372.08L630.71 372.82L632.24 373.56L633.52 374.30L633.92 375.04L633.99 375.77M638.50 366.92L638.18 367.66L637.16 368.40L635.46 369.13L636.29 369.87L643.80 370.61L648.50 371.35L648.50 372.08L641.38 372.82L635.54 373.56L635.84 374.30L637.51 375.04L638.29 375.77L638.47 376.51M643.25 367.66L643.13 368.40L642.59 369.13L641.11 369.87L639.94 370.61L643.70 371.35L653.25 372.08L653.25 372.82L651.51 373.56L642.49 374.30L639.95 375.04L641.43 375.77L642.74 376.51L643.17 377.25L643.24 377.99M648.00 369.13L647.73 369.87L646.82 370.61L645.11 371.35L645.41 372.08L652.23 372.82L658.00 373.56L658.00 374.30L651.89 375.04L645.31 375.77L645.16 376.51L646.87 377.25L647.75 377.99L647.97 378.72M652.50 369.87L652.42 370.61L651.99 371.35L650.69 372.08L649.20 372.82L651.72 373.56L660.73 374.30L662.50 375.04L662.50 375.77L652.97 376.51L649.19 377.25L650.36 377.99L651.83 378.72L652.38 379.46L652.49 380.20M657.00 371.35L656.83 372.08L656.15 372.82L654.54 373.56L653.85 374.30L658.88 375.04L667.00 375.77L667.00 376.51L663.44 377.25L655.27 377.99L653.83 378.72L655.49 379.46L656.62 380.20L656.94 380.94L656.99 381.68M661.50 372.82L661.20 373.56L660.22 374.30L658.51 375.04L659.15 375.77L666.42 376.51L671.50 377.25L671.50 377.99L664.73 378.72L658.63 379.46L658.78 380.20L660.46 380.94L661.28 381.68L661.47 382.41M666.00 373.56L665.92 374.30L665.52 375.04L664.25 375.77L662.72 376.51L665.00 377.25L673.86 377.99L676.00 378.72L676.00 379.46L666.75 380.20L662.71 380.94L663.79 381.68L665.30 382.41L665.87 383.15L665.99 383.89M670.75 375.04L670.62 375.77L670.05 376.51L668.55 377.25L667.46 377.99L671.47 378.72L680.75 379.46L680.75 380.20L678.65 380.94L669.78 381.68L667.46 382.41L668.99 383.15L670.27 383.89L670.67 384.63L670.74 385.37M675.25 376.51L675.06 377.25L674.31 377.99L672.65 378.72L672.22 379.46L677.80 380.20L685.25 380.94L685.25 381.68L680.91 382.41L673.18 383.15L672.16 383.89L673.86 384.63L674.91 385.37L675.20 386.10M680.00 377.99L679.73 378.72L678.81 379.46L677.10 380.20L677.44 380.94L684.30 381.68L690.00 382.41L690.00 383.15L683.82 383.89L677.29 384.63L677.18 385.37L678.88 386.10L679.75 386.84L679.97 387.58M684.50 378.72L684.45 379.46L684.15 380.20L683.08 380.94L681.39 381.68L682.50 382.41L690.32 383.15L694.50 383.89L694.50 384.63L686.91 385.37L681.44 386.10L681.93 386.84L683.58 387.58L684.31 388.32L684.48 389.05M689.25 380.20L689.18 380.94L688.83 381.68L687.64 382.41L686.02 383.15L687.81 383.89L696.29 384.63L699.25 385.37L699.25 386.10L690.64 386.84L686.03 387.58L686.89 388.32L688.46 389.05L689.10 389.79L689.23 390.53M693.75 381.68L693.67 382.41L693.27 383.15L691.99 383.89L690.46 384.63L692.79 385.37L701.67 386.10L703.75 386.84L703.75 387.58L694.46 388.32L690.46 389.05L691.55 389.79L693.05 390.53L693.62 391.27L693.74 392.01M698.25 383.15L698.16 383.89L697.73 384.63L696.40 385.37L694.94 386.10L697.61 386.84L706.71 387.58L708.25 388.32L708.07 389.05L698.55 389.79L694.93 390.53L696.15 391.27L697.60 392.01L698.13 392.74L698.24 393.48M702.50 384.63L702.41 385.37L701.96 386.10L700.61 386.84L699.18 387.58L702.00 388.32L711.18 389.05L712.50 389.79L712.11 390.53L702.64 391.27L699.18 392.01L700.44 392.74L701.88 393.48L702.39 394.22L702.49 394.96M707.50 386.10L707.41 386.84L706.96 387.58L705.62 388.32L704.18 389.05L706.94 389.79L716.09 390.53L717.50 391.27L717.20 392.01L707.71 392.74L704.18 393.48L705.42 394.22L706.87 394.96L707.39 395.69L707.49 396.43M712.50 387.58L712.42 388.32L712.00 389.05L710.69 389.79L709.20 390.53L711.69 391.27L720.69 392.01L722.50 392.74L722.50 393.48L713.00 394.22L709.19 394.96L710.35 395.69L711.83 396.43L712.38 397.17L712.49 397.91M716.75 389.05L716.68 389.79L716.30 390.53L715.07 391.27L713.49 392.01L715.54 392.74L724.22 393.48L726.75 394.22L726.75 394.96L717.80 395.69L713.49 396.43L714.47 397.17L716.01 397.91L716.61 398.65L716.73 399.38M721.25 390.53L721.19 391.27L720.87 392.01L719.74 392.74L718.08 393.48L719.52 394.22L727.69 394.96L731.25 395.69L731.25 396.43L723.13 397.17L718.10 397.91L718.79 398.65L720.40 399.38L721.08 400.12L721.23 400.86M726.00 392.74L725.69 393.48L724.69 394.22L722.98 394.96L723.72 395.69L731.11 396.43L736.00 397.17L736.00 397.91L729.05 398.65L723.08 399.38L723.31 400.12L724.99 400.86L725.79 401.60L725.97 402.33M730.50 394.22L730.26 394.96L729.42 395.69L727.72 396.43L727.71 397.17L734.05 397.91L740.50 398.65L740.50 399.38L735.08 400.12L728.03 400.86L727.56 401.60L729.27 402.33L730.22 403.07L730.46 403.81M735.00 395.69L734.83 396.43L734.15 397.17L732.54 397.91L731.84 398.65L736.84 399.38L745.00 400.12L745.00 400.86L741.48 401.60L733.29 402.33L731.82 403.07L733.48 403.81L734.61 404.55L734.94 405.29L734.99 406.02M739.75 397.17L739.64 397.91L739.13 398.65L737.69 399.38L736.43 400.12L739.89 400.86L749.36 401.60L749.75 402.33L748.44 403.07L739.26 403.81L736.43 404.55L737.86 405.29L739.21 406.02L739.66 406.76L739.74 407.50M744.25 398.65L744.18 399.38L743.82 400.12L742.62 400.86L741.01 401.60L742.87 402.33L751.41 403.07L754.25 403.81L754.25 404.55L745.54 405.29L741.02 406.02L741.91 406.76L743.48 407.50L744.10 408.24L744.23 408.97M749.00 400.86L748.73 401.60L747.80 402.33L746.08 403.07L746.47 403.81L753.40 404.55L759.00 405.29L759.00 406.02L752.72 406.76L746.26 407.50L746.19 408.24L747.89 408.97L748.76 409.71L748.97 410.45M753.50 402.33L753.34 403.07L752.68 403.81L751.09 404.55L750.31 405.29L755.15 406.02L763.50 406.76L763.50 407.50L760.22 408.24L751.90 408.97L750.30 409.71L751.94 410.45L753.10 411.19L753.44 411.93L753.49 412.66M758.00 403.81L757.91 404.55L757.49 405.29L756.17 406.02L754.69 406.76L757.26 407.50L766.30 408.24L768.00 408.97L767.98 409.71L758.42 410.45L754.69 411.19L755.87 411.93L757.34 412.66L757.88 413.40L757.99 414.14M762.50 406.02L762.21 406.76L761.25 407.50L759.54 408.24L760.08 408.97L767.22 409.71L772.50 410.45L772.50 411.19L765.92 411.93L759.68 412.66L759.74 413.40L761.44 414.14L762.27 414.88L762.47 415.61M767.25 407.50L767.10 408.24L766.48 408.97L764.92 409.71L764.01 410.45L768.51 411.19L777.25 411.93L777.25 412.66L774.45 413.40L765.89 414.14L764.01 414.88L765.61 415.61L766.82 416.35L767.18 417.09L767.24 417.83M771.75 408.97L771.68 409.71L771.33 410.45L770.14 411.19L768.52 411.93L770.31 412.66L778.78 413.40L781.75 414.14L781.75 414.88L773.14 415.61L768.53 416.35L769.39 417.09L770.96 417.83L771.60 418.57L771.73 419.30M776.50 411.19L776.30 411.93L775.52 412.66L773.86 413.40L773.53 414.14L779.30 414.88L786.50 415.61L786.50 416.35L781.89 417.09L774.32 417.83L773.45 418.57L775.15 419.30L776.18 420.04L776.45 420.78M781.00 412.66L780.91 413.40L780.49 414.14L779.17 414.88L777.69 415.61L780.28 416.35L789.33 417.09L791.00 417.83L790.95 418.57L781.40 419.30L777.69 420.04L778.87 420.78L780.34 421.52L780.88 422.25L780.99 422.99M785.50 414.88L785.27 415.61L784.42 416.35L782.72 417.09L782.71 417.83L789.03 418.57L795.50 419.30L795.50 420.04L790.10 420.78L783.03 421.52L782.55 422.25L784.27 422.99L785.22 423.73L785.46 424.47M790.25 416.35L790.16 417.09L789.71 417.83L788.37 418.57L786.93 419.30L789.72 420.04L798.88 420.78L800.25 421.52L799.91 422.25L790.43 422.99L786.93 423.73L788.18 424.47L789.62 425.21L790.14 425.94L790.24 426.68M794.75 418.57L794.52 419.30L793.70 420.04L792.00 420.78L791.91 421.52L798.12 422.25L804.75 422.99L804.75 423.73L799.53 424.47L792.34 425.21L791.78 425.94L793.49 426.68L794.46 427.42L794.71 428.16M799.25 420.04L799.17 420.78L798.76 421.52L797.48 422.25L795.96 422.99L798.33 423.73L807.24 424.47L809.25 425.21L809.25 425.94L799.90 426.68L795.95 427.42L797.06 428.16L798.56 428.90L799.12 429.63L799.24 430.37M804.00 422.25L803.81 422.99L803.08 423.73L801.44 424.47L800.93 425.21L806.36 425.94L814.00 426.68L814.00 427.42L809.89 428.16L802.02 428.90L800.89 429.63L802.57 430.37L803.65 431.11L803.95 431.85L804.00 432.58M808.50 423.73L808.44 424.47L808.12 425.21L806.99 425.94L805.33 426.68L806.75 427.42L814.90 428.16L818.50 428.90L818.50 429.63L810.41 430.37L805.35 431.11L806.03 431.85L807.64 432.58L808.33 433.32L808.48 434.06M813.25 425.94L813.12 426.68L812.55 427.42L811.05 428.16L809.96 428.90L813.95 429.63L823.25 430.37L823.25 431.11L821.18 431.85L812.29 432.58L809.96 433.32L811.49 434.06L812.77 434.80L813.17 435.54L813.24 436.27M817.75 428.16L817.50 428.90L816.61 429.63L814.90 430.37L815.08 431.11L821.71 431.85L827.75 432.58L827.75 433.32L821.92 434.06L815.14 434.80L814.87 435.54L816.58 436.27L817.49 437.01L817.71 437.75M822.25 429.63L822.18 430.37L821.80 431.11L820.56 431.85L818.99 432.58L821.05 433.32L829.74 434.06L832.25 434.80L832.25 435.54L823.28 436.27L818.99 437.01L819.97 437.75L821.51 438.49L822.11 439.22L822.23 439.96M827.00 431.85L826.86 432.58L826.26 433.32L824.72 434.06L823.74 434.80L828.03 435.54L837.00 436.27L837.00 437.01L834.50 437.75L825.80 438.49L823.74 439.22L825.31 439.96L826.55 440.70L826.93 441.44L826.99 442.18M831.50 434.06L831.26 434.80L830.39 435.54L828.69 436.27L828.77 437.01L835.26 437.75L841.50 438.49L841.50 439.22L835.87 439.96L828.96 440.70L828.59 441.44L830.30 442.18L831.23 442.91L831.46 443.65M836.00 435.54L835.94 436.27L835.60 437.01L834.45 437.75L832.81 438.49L834.37 439.22L842.64 439.96L846.00 440.70L846.00 441.44L837.71 442.18L832.82 442.91L833.57 443.65L835.17 444.39L835.84 445.13L835.98 445.86M840.75 437.75L840.64 438.49L840.15 439.22L838.74 439.96L837.43 440.70L840.70 441.44L850.10 442.18L850.75 442.91L849.70 443.65L840.43 444.39L837.43 445.13L838.81 445.86L840.18 446.60L840.65 447.34L840.74 448.08" fill="none" stroke="#000" stroke-width="0.85" stroke-linejoin="round"/>
<path d="M110.25 570.55L110.15 572.03L108.67 573.50L114.10 574.98L114.80 576.46L108.58 577.93L110.13 579.41L110.25 580.88M114.50 570.55L113.47 572.03L115.31 573.50L121.72 574.98L112.83 576.46L114.18 577.93L114.50 579.41M119.50 569.08L118.98 570.55L118.30 572.03L127.44 573.50L119.00 574.98L118.78 576.46L119.49 577.93M124.25 567.60L124.04 569.08L122.48 570.55L130.34 572.03L126.46 573.50L122.94 574.98L124.20 576.46L124.25 577.93M128.75 566.13L128.68 567.60L127.36 569.08L131.45 570.55L134.39 572.03L126.99 573.50L128.57 574.98L128.75 576.46M133.25 566.13L132.48 567.60L132.95 569.08L141.12 570.55L131.94 572.03L132.77 573.50L133.24 574.98M138.00 564.65L137.68 566.13L136.32 567.60L145.17 569.08L138.87 570.55L136.96 572.03L137.97 573.50M142.50 563.17L142.40 564.65L140.92 566.13L146.40 567.60L147.01 569.08L140.84 570.55L142.38 572.03L142.50 573.50M147.00 563.17L146.08 564.65L147.31 566.13L154.55 567.60L145.44 569.08L146.62 570.55L147.00 572.03M151.75 561.70L151.38 563.17L150.17 564.65L159.25 566.13L152.14 567.60L150.81 569.08L151.73 570.55M156.25 560.22L156.14 561.70L154.63 563.17L160.45 564.65L160.46 566.13L154.63 567.60L156.14 569.08L156.25 570.55M161.00 560.22L160.08 561.70L161.31 563.17L168.55 564.65L159.44 566.13L160.62 567.60L161.00 569.08M165.50 558.75L165.16 560.22L163.86 561.70L172.84 563.17L166.13 564.65L164.51 566.13L165.47 567.60M170.00 557.27L169.91 558.75L168.46 560.22L173.59 561.70L174.81 563.17L168.31 564.65L169.87 566.13L170.00 567.60M174.75 557.27L173.98 558.75L174.43 560.22L182.62 561.70L173.45 563.17L174.27 564.65L174.74 566.13M179.25 555.80L179.01 557.27L177.49 558.75L185.79 560.22L180.93 561.70L178.04 563.17L179.21 564.65M183.75 554.32L183.70 555.80L182.47 557.27L185.82 558.75L189.96 560.22L181.98 561.70L183.53 563.17L183.75 564.65M188.50 554.32L187.99 555.80L187.27 557.27L196.42 558.75L188.06 560.22L187.76 561.70L188.49 563.17M193.00 552.85L192.87 554.32L191.33 555.80L197.61 557.27L196.80 558.75L191.43 560.22L192.90 561.70L193.00 563.17M197.75 552.85L196.90 554.32L197.76 555.80L205.47 557.27L196.30 558.75L197.32 560.22L197.74 561.70M202.25 551.37L202.01 552.85L200.49 554.32L208.76 555.80L203.96 557.27L201.04 558.75L202.20 560.22M206.75 551.37L205.57 552.85L208.30 554.32L213.40 555.80L204.99 557.27L206.50 558.75L206.75 560.22M211.50 549.89L211.11 551.37L209.95 552.85L219.06 554.32L211.79 555.80L210.59 557.27L211.48 558.75M216.00 548.42L215.93 549.89L214.56 551.37L218.97 552.85L221.39 554.32L214.26 555.80L215.84 557.27L216.00 558.75M220.50 548.42L219.97 549.89L219.34 551.37L228.45 552.85L219.95 554.32L219.79 555.80L220.49 557.27M225.25 546.94L225.15 548.42L223.65 549.89L229.28 551.37L229.63 552.85L223.61 554.32L225.13 555.80L225.25 557.27M229.75 546.94L229.11 548.42L228.96 549.89L237.75 551.37L228.78 552.85L229.16 554.32L229.74 555.80M234.50 545.47L234.37 546.94L232.82 548.42L239.14 549.89L238.26 551.37L232.94 552.85L234.41 554.32L234.50 555.80M239.00 545.47L238.30 546.94L238.42 548.42L246.96 549.89L237.86 551.37L238.46 552.85L238.99 554.32M243.50 543.99L243.37 545.47L241.81 546.94L248.31 548.42L247.09 549.89L241.96 551.37L243.41 552.85L243.50 554.32M248.00 543.99L247.31 545.47L247.39 546.94L255.97 548.42L246.88 549.89L247.46 551.37L247.99 552.85M252.75 542.52L252.63 543.99L251.09 545.47L257.29 546.94L256.62 548.42L251.17 549.89L252.65 551.37L252.75 552.85M257.25 542.52L256.63 543.99L256.38 545.47L265.25 546.94L256.35 548.42L256.64 549.89L257.24 551.37M262.00 541.04L261.90 542.52L260.43 543.99L265.81 545.47L266.60 546.94L260.33 548.42L261.87 549.89L262.00 551.37M266.50 541.04L266.00 542.52L265.23 543.99L274.40 545.47L266.12 546.94L265.75 548.42L266.48 549.89M271.00 539.57L270.94 541.04L269.62 542.52L273.63 543.99L276.72 545.47L269.24 546.94L270.82 548.42L271.00 549.89M275.75 539.57L275.40 541.04L274.12 542.52L283.10 543.99L276.36 545.47L274.76 546.94L275.72 548.42M280.25 539.57L279.16 541.04L281.35 542.52L287.25 543.99L278.54 545.47L279.96 546.94L280.25 548.42M285.00 538.09L284.80 539.57L283.23 541.04L291.03 542.52L287.28 543.99L283.68 545.47L284.94 546.94L285.00 548.42M289.50 538.09L288.76 539.57L289.06 541.04L297.42 542.52L288.27 543.99L288.99 545.47L289.49 546.94M294.00 536.61L293.90 538.09L292.43 539.57L297.80 541.04L298.61 542.52L292.33 543.99L293.87 545.47L294.00 546.94M298.75 536.61L298.35 538.09L297.24 539.57L306.38 541.04L298.92 542.52L297.87 543.99L298.73 545.47M303.25 536.61L302.16 538.09L304.36 539.57L310.25 541.04L301.53 542.52L302.96 543.99L303.25 545.47M307.50 535.14L307.33 536.61L305.75 538.09L313.02 539.57L310.34 541.04L306.08 542.52L307.43 543.99L307.50 545.47M312.50 535.14L311.93 536.61L311.46 538.09L320.49 539.57L311.79 541.04L311.84 542.52L312.49 543.99M316.50 533.66L316.45 535.14L315.22 536.61L318.56 538.09L322.71 539.57L314.73 541.04L316.28 542.52L316.50 543.99M321.75 533.66L321.54 535.14L319.98 536.61L327.88 538.09L323.91 539.57L320.45 541.04L321.70 542.52L321.75 543.99M326.25 533.66L325.63 535.14L325.37 536.61L334.25 538.09L325.37 539.57L325.63 541.04L326.24 542.52M330.75 532.19L330.70 533.66L329.47 535.14L332.79 536.61L336.98 538.09L328.98 539.57L330.53 541.04L330.75 542.52M335.50 532.19L335.31 533.66L333.73 535.14L341.30 536.61L338.03 538.09L334.14 539.57L335.44 541.04L335.50 542.52M340.00 532.19L339.48 533.66L338.80 535.14L347.93 536.61L339.51 538.09L339.28 539.57L339.99 541.04M344.50 532.19L343.42 533.66L345.55 535.14L351.54 536.61L342.79 538.09L344.20 539.57L344.50 541.04M349.25 530.71L349.13 532.19L347.60 533.66L353.67 535.14L353.24 536.61L347.66 538.09L349.15 539.57L349.25 541.04M354.00 530.71L353.67 532.19L352.33 533.66L361.22 535.14L354.80 536.61L352.97 538.09L353.97 539.57M358.50 530.71L357.79 532.19L357.97 533.66L366.44 535.14L357.32 536.61L357.97 538.09L358.49 539.57M363.00 530.71L361.75 532.19L364.88 533.66L369.37 535.14L361.23 536.61L362.77 538.09L363.00 539.57M367.50 529.24L367.36 530.71L365.80 532.19L372.35 533.66L371.05 535.14L365.97 536.61L367.41 538.09L367.50 539.57M372.00 529.24L371.68 530.71L370.32 532.19L379.20 533.66L372.84 535.14L370.97 536.61L371.97 538.09M376.75 529.24L376.12 530.71L375.94 532.19L384.75 533.66L375.80 535.14L376.15 536.61L376.74 538.09M381.25 529.24L380.19 530.71L382.22 532.19L388.35 533.66L379.55 535.14L380.94 536.61L381.25 538.09M386.00 527.76L385.92 529.24L384.50 530.71L389.33 532.19L391.06 533.66L384.28 535.14L385.85 536.61L386.00 538.09M390.50 527.76L390.32 529.24L388.74 530.71L396.16 532.19L393.19 533.66L389.11 535.14L390.43 536.61L390.50 538.09M395.25 527.76L394.91 529.24L393.61 530.71L402.58 532.19L395.89 533.66L394.26 535.14L395.22 536.61M399.75 527.76L399.17 529.24L398.76 530.71L407.74 532.19L398.98 533.66L399.10 535.14L399.74 536.61M404.25 527.76L403.36 529.24L404.43 530.71L411.87 532.19L402.73 533.66L403.85 535.14L404.25 536.61M408.50 527.76L407.28 529.24L410.25 530.71L414.98 532.19L406.73 533.66L408.26 535.14L408.50 536.61M413.50 526.28L413.41 527.76L411.98 529.24L416.97 530.71L418.42 532.19L411.80 533.66L413.36 535.14L413.50 536.61M418.50 526.28L418.35 527.76L416.78 529.24L423.60 530.71L421.79 532.19L417.01 533.66L418.42 535.14L418.50 536.61M422.75 526.28L422.52 527.76L420.98 529.24L429.18 530.71L424.56 532.19L421.52 533.66L422.70 535.14M427.25 526.28L426.90 527.76L425.62 529.24L434.60 530.71L427.86 532.19L426.26 533.66L427.22 535.14M432.00 526.28L431.52 527.76L430.68 529.24L439.86 530.71L431.72 532.19L431.22 533.66L431.98 535.14M436.50 526.28L435.88 527.76L435.64 529.24L444.50 530.71L435.59 532.19L435.89 533.66L436.49 535.14M441.00 526.28L440.23 527.76L440.70 529.24L448.86 530.71L439.69 532.19L440.52 533.66L440.99 535.14M445.75 526.28L444.83 527.76L446.06 529.24L453.30 530.71L444.19 532.19L445.37 533.66L445.75 535.14M450.25 526.28L449.20 527.76L451.16 529.24L457.39 530.71L448.56 532.19L449.94 533.66L450.25 535.14M455.00 526.28L453.84 527.76L456.45 529.24L461.72 530.71L453.25 532.19L454.74 533.66L455.00 535.14M459.50 526.28L458.25 527.76L461.42 529.24L465.84 530.71L457.73 532.19L459.27 533.66L459.50 535.14M464.00 524.81L463.94 526.28L462.68 527.76L466.28 529.24L470.03 530.71L462.23 532.19L463.80 533.66L464.00 535.14M468.75 524.81L468.69 526.28L467.39 527.76L471.27 529.24L474.56 530.71L466.98 532.19L468.56 533.66L468.75 535.14M473.25 524.81L473.19 526.28L471.86 527.76L475.90 529.24L478.94 530.71L471.49 532.19L473.07 533.66L473.25 535.14M477.75 524.81L477.69 526.28L476.36 527.76L480.40 529.24L483.44 530.71L475.99 532.19L477.57 533.66L477.75 535.14M482.50 524.81L482.44 526.28L481.14 527.76L485.02 529.24L488.31 530.71L480.73 532.19L482.31 533.66L482.50 535.14M487.00 524.81L486.94 526.28L485.68 527.76L489.28 529.24L493.03 530.71L485.23 532.19L486.80 533.66L487.00 535.14M491.50 526.28L490.25 527.76L493.42 529.24L497.84 530.71L489.73 532.19L491.27 533.66L491.50 535.14M496.25 526.28L495.09 527.76L497.70 529.24L502.97 530.71L494.50 532.19L495.99 533.66L496.25 535.14M500.75 526.28L499.70 527.76L501.66 529.24L507.89 530.71L499.06 532.19L500.44 533.66L500.75 535.14M505.50 526.28L504.58 527.76L505.81 529.24L513.05 530.71L503.94 532.19L505.12 533.66L505.50 535.14M510.00 526.28L509.23 527.76L509.70 529.24L517.86 530.71L508.69 532.19L509.52 533.66L509.99 535.14M514.50 526.28L513.88 527.76L513.64 529.24L522.50 530.71L513.59 532.19L513.89 533.66L514.49 535.14M519.25 526.28L518.77 527.76L517.93 529.24L527.11 530.71L518.97 532.19L518.47 533.66L519.23 535.14M523.75 526.28L523.40 527.76L522.12 529.24L531.10 530.71L524.36 532.19L522.76 533.66L523.72 535.14M528.25 526.28L528.02 527.76L526.48 529.24L534.68 530.71L530.06 532.19L527.02 533.66L528.20 535.14M533.00 526.28L532.85 527.76L531.28 529.24L538.10 530.71L536.29 532.19L531.51 533.66L532.92 535.14L533.00 536.61M537.50 526.28L537.41 527.76L535.98 529.24L540.97 530.71L542.42 532.19L535.80 533.66L537.36 535.14L537.50 536.61M542.00 527.76L540.78 529.24L543.75 530.71L548.48 532.19L540.23 533.66L541.76 535.14L542.00 536.61M546.75 527.76L545.86 529.24L546.93 530.71L554.37 532.19L545.23 533.66L546.35 535.14L546.75 536.61M551.25 527.76L550.67 529.24L550.26 530.71L559.24 532.19L550.48 533.66L550.60 535.14L551.24 536.61M556.00 527.76L555.66 529.24L554.36 530.71L563.33 532.19L556.64 533.66L555.01 535.14L555.97 536.61M560.50 527.76L560.32 529.24L558.74 530.71L566.16 532.19L563.19 533.66L559.11 535.14L560.43 536.61L560.50 538.09M565.00 527.76L564.92 529.24L563.50 530.71L568.33 532.19L570.06 533.66L563.28 535.14L564.85 536.61L565.00 538.09M569.75 529.24L568.69 530.71L570.72 532.19L576.85 533.66L568.05 535.14L569.44 536.61L569.75 538.09M574.25 529.24L573.62 530.71L573.44 532.19L582.25 533.66L573.30 535.14L573.65 536.61L574.24 538.09M579.00 529.24L578.68 530.71L577.32 532.19L586.20 533.66L579.84 535.14L577.97 536.61L578.97 538.09M583.50 529.24L583.36 530.71L581.80 532.19L588.35 533.66L587.05 535.14L581.97 536.61L583.41 538.09L583.50 539.57M588.00 530.71L586.75 532.19L589.88 533.66L594.37 535.14L586.23 536.61L587.77 538.09L588.00 539.57M592.75 530.71L592.04 532.19L592.22 533.66L600.69 535.14L591.57 536.61L592.22 538.09L592.74 539.57M597.25 530.71L596.92 532.19L595.58 533.66L604.47 535.14L598.05 536.61L596.22 538.09L597.22 539.57M601.75 530.71L601.63 532.19L600.10 533.66L606.17 535.14L605.74 536.61L600.16 538.09L601.65 539.57L601.75 541.04M606.50 532.19L605.42 533.66L607.55 535.14L613.54 536.61L604.79 538.09L606.20 539.57L606.50 541.04M611.50 532.19L610.98 533.66L610.30 535.14L619.43 536.61L611.01 538.09L610.78 539.57L611.49 541.04M615.75 532.19L615.56 533.66L613.98 535.14L621.55 536.61L618.28 538.09L614.39 539.57L615.69 541.04L615.75 542.52M620.25 532.19L620.20 533.66L618.97 535.14L622.29 536.61L626.48 538.09L618.48 539.57L620.03 541.04L620.25 542.52M624.75 533.66L624.13 535.14L623.87 536.61L632.75 538.09L623.87 539.57L624.13 541.04L624.74 542.52M629.50 533.66L629.29 535.14L627.73 536.61L635.63 538.09L631.66 539.57L628.20 541.04L629.45 542.52L629.50 543.99M634.00 533.66L633.95 535.14L632.72 536.61L636.06 538.09L640.21 539.57L632.23 541.04L633.78 542.52L634.00 543.99M638.50 535.14L637.93 536.61L637.46 538.09L646.49 539.57L637.79 541.04L637.84 542.52L638.49 543.99M643.25 535.14L643.08 536.61L641.50 538.09L648.77 539.57L646.09 541.04L641.83 542.52L643.18 543.99L643.25 545.47M648.00 536.61L646.91 538.09L649.11 539.57L655.00 541.04L646.28 542.52L647.71 543.99L648.00 545.47M652.50 536.61L652.10 538.09L650.99 539.57L660.13 541.04L652.67 542.52L651.62 543.99L652.48 545.47M657.00 536.61L656.90 538.09L655.43 539.57L660.80 541.04L661.61 542.52L655.33 543.99L656.87 545.47L657.00 546.94M661.50 538.09L660.76 539.57L661.06 541.04L669.42 542.52L660.27 543.99L660.99 545.47L661.49 546.94M666.00 538.09L665.80 539.57L664.23 541.04L672.03 542.52L668.28 543.99L664.68 545.47L665.94 546.94L666.00 548.42M670.75 539.57L669.66 541.04L671.85 542.52L677.75 543.99L669.04 545.47L670.46 546.94L670.75 548.42M675.25 539.57L674.90 541.04L673.62 542.52L682.60 543.99L675.86 545.47L674.26 546.94L675.22 548.42M680.00 539.57L679.94 541.04L678.62 542.52L682.63 543.99L685.72 545.47L678.24 546.94L679.82 548.42L680.00 549.89M684.50 541.04L684.00 542.52L683.23 543.99L692.40 545.47L684.12 546.94L683.75 548.42L684.48 549.89M689.25 541.04L689.15 542.52L687.68 543.99L693.06 545.47L693.85 546.94L687.58 548.42L689.12 549.89L689.25 551.37M693.75 542.52L693.13 543.99L692.88 545.47L701.75 546.94L692.85 548.42L693.14 549.89L693.74 551.37M698.25 542.52L698.13 543.99L696.59 545.47L702.79 546.94L702.12 548.42L696.67 549.89L698.15 551.37L698.25 552.85M702.50 543.99L701.81 545.47L701.89 546.94L710.47 548.42L701.38 549.89L701.96 551.37L702.49 552.85M707.50 543.99L707.37 545.47L705.81 546.94L712.31 548.42L711.09 549.89L705.96 551.37L707.41 552.85L707.50 554.32M712.50 545.47L711.80 546.94L711.92 548.42L720.46 549.89L711.36 551.37L711.96 552.85L712.49 554.32M716.75 545.47L716.62 546.94L715.07 548.42L721.39 549.89L720.51 551.37L715.19 552.85L716.66 554.32L716.75 555.80M721.25 546.94L720.61 548.42L720.46 549.89L729.25 551.37L720.28 552.85L720.66 554.32L721.24 555.80M726.00 546.94L725.90 548.42L724.40 549.89L730.03 551.37L730.38 552.85L724.36 554.32L725.88 555.80L726.00 557.27M730.50 548.42L729.97 549.89L729.34 551.37L738.45 552.85L729.95 554.32L729.79 555.80L730.49 557.27M735.00 548.42L734.93 549.89L733.56 551.37L737.97 552.85L740.39 554.32L733.26 555.80L734.84 557.27L735.00 558.75M739.75 549.89L739.36 551.37L738.20 552.85L747.31 554.32L740.04 555.80L738.84 557.27L739.73 558.75M744.25 551.37L743.07 552.85L745.80 554.32L750.90 555.80L742.49 557.27L744.00 558.75L744.25 560.22M749.00 551.37L748.76 552.85L747.24 554.32L755.51 555.80L750.71 557.27L747.79 558.75L748.95 560.22M753.50 552.85L752.65 554.32L753.51 555.80L761.22 557.27L752.05 558.75L753.07 560.22L753.49 561.70M758.00 552.85L757.87 554.32L756.33 555.80L762.61 557.27L761.80 558.75L756.43 560.22L757.90 561.70L758.00 563.17M762.50 554.32L761.99 555.80L761.27 557.27L770.42 558.75L762.06 560.22L761.76 561.70L762.49 563.17M767.25 554.32L767.20 555.80L765.97 557.27L769.32 558.75L773.46 560.22L765.48 561.70L767.03 563.17L767.25 564.65M771.75 555.80L771.51 557.27L769.99 558.75L778.29 560.22L773.43 561.70L770.54 563.17L771.71 564.65M776.50 557.27L775.73 558.75L776.18 560.22L784.37 561.70L775.20 563.17L776.02 564.65L776.49 566.13M781.00 557.27L780.91 558.75L779.46 560.22L784.59 561.70L785.81 563.17L779.31 564.65L780.87 566.13L781.00 567.60M785.50 558.75L785.16 560.22L783.86 561.70L792.84 563.17L786.13 564.65L784.51 566.13L785.47 567.60M790.25 560.22L789.33 561.70L790.56 563.17L797.80 564.65L788.69 566.13L789.87 567.60L790.25 569.08M794.75 560.22L794.64 561.70L793.13 563.17L798.95 564.65L798.96 566.13L793.13 567.60L794.64 569.08L794.75 570.55M799.25 561.70L798.88 563.17L797.67 564.65L806.75 566.13L799.64 567.60L798.31 569.08L799.23 570.55M804.00 563.17L803.08 564.65L804.31 566.13L811.55 567.60L802.44 569.08L803.62 570.55L804.00 572.03M808.50 563.17L808.40 564.65L806.92 566.13L812.40 567.60L813.01 569.08L806.84 570.55L808.38 572.03L808.50 573.50M813.25 564.65L812.93 566.13L811.57 567.60L820.42 569.08L814.12 570.55L812.21 572.03L813.22 573.50M817.75 566.13L816.98 567.60L817.45 569.08L825.62 570.55L816.44 572.03L817.27 573.50L817.74 574.98M822.25 566.13L822.18 567.60L820.86 569.08L824.95 570.55L827.89 572.03L820.49 573.50L822.07 574.98L822.25 576.46M827.00 567.60L826.79 569.08L825.23 570.55L833.09 572.03L829.21 573.50L825.69 574.98L826.95 576.46L827.00 577.93M831.50 569.08L830.98 570.55L830.30 572.03L839.44 573.50L831.00 574.98L830.78 576.46L831.49 577.93M836.00 570.55L834.97 572.03L836.81 573.50L843.22 574.98L834.33 576.46L835.68 577.93L836.00 579.41M840.75 570.55L840.65 572.03L839.17 573.50L844.60 574.98L845.30 576.46L839.08 577.93L840.63 579.41L840.75 580.88" fill="none" stroke="#000" stroke-width="0.6" stroke-linejoin="round"/>
<g stroke="#000" stroke-width="2.3" fill="none" stroke-linecap="round">
<line x1="98.15" y1="164.02" x2="845.2" y2="164.02"/><line x1="98.15" y1="256.25" x2="845.2" y2="256.25"/><line x1="98.15" y1="348.47" x2="845.2" y2="348.47"/><line x1="98.15" y1="440.70" x2="845.2" y2="440.70"/><line x1="98.15" y1="532.92" x2="845.2" y2="532.92"/>
<line x1="106.9" y1="71.7" x2="106.9" y2="627"/>
<line x1="844.2" y1="71.7" x2="844.2" y2="627"/>
<line x1="98.15" y1="71.7" x2="845.2" y2="71.7"/>
<line x1="106.9" y1="625.0" x2="845.2" y2="625.0" stroke-width="2.6"/>
<line x1="98.15" y1="71.80" x2="107" y2="71.80"/><line x1="110.36" y1="63.15" x2="110.36" y2="72"/><line x1="202.22" y1="63.15" x2="202.22" y2="72"/><line x1="294.08" y1="63.15" x2="294.08" y2="72"/><line x1="385.94" y1="63.15" x2="385.94" y2="72"/><line x1="477.80" y1="63.15" x2="477.80" y2="72"/><line x1="569.66" y1="63.15" x2="569.66" y2="72"/><line x1="661.52" y1="63.15" x2="661.52" y2="72"/><line x1="753.38" y1="63.15" x2="753.38" y2="72"/>
</g>
<defs><filter id="gs"><feColorMatrix type="identity"/></filter></defs>
<g fill="none" stroke="#000" stroke-width="2.7" stroke-linecap="round" stroke-linejoin="round"><path transform="translate(103.01,37.90)" d="M7.35 1.35C10.8 1.35 13.35 4.9 13.35 10C13.35 15.1 10.8 18.65 7.35 18.65C3.9 18.65 1.35 15.1 1.35 10C1.35 4.9 3.9 1.35 7.35 1.35Z"/><path transform="translate(197.54,37.90)" d="M4.9 1.2V18.6M4.9 1.3L1.3 4.3M1.3 18.65H8.0"/><path transform="translate(287.03,37.90)" d="M2.1 5.0C1.4 2.6 3.8 1.35 7.2 1.35C10.6 1.35 12.7 2.9 12.7 5.2C12.7 8.0 10.0 9.3 6.5 11.0C3.2 12.6 1.4 14.6 1.35 18.6M1.6 16.4C3.2 14.9 5.2 15.6 7.3 17.2C9.3 18.9 12.3 18.8 12.7 15.4"/><path transform="translate(378.99,37.90)" d="M2.2 5.0C1.5 2.5 4.0 1.35 7.0 1.35C10.0 1.35 12.2 2.7 12.2 4.8C12.2 6.9 10.1 8.2 6.8 8.2H5.8M6.8 8.2C10.6 8.2 12.55 10.6 12.55 13.3C12.55 16.6 10.0 18.65 7.0 18.65C3.6 18.65 1.35 16.9 1.6 14.5"/><path transform="translate(470.00,37.90)" d="M10.2 1.1L1.35 13.1H14.25M10.2 1.1V18.5M6.9 18.65H13.5"/><path transform="translate(563.01,37.90)" d="M2.3 1.35H11.9M2.3 1.35L1.35 9.4C2.5 7.0 4.3 6.1 6.3 6.1C9.8 6.1 11.95 8.6 11.95 12.3C11.95 16.2 9.6 18.65 6.4 18.65C3.3 18.65 1.35 16.8 1.6 14.6"/><path transform="translate(654.57,37.90)" d="M11.4 4.6C11.6 2.5 9.8 1.35 7.4 1.35C3.6 1.35 1.35 5.0 1.35 10.6C1.35 15.6 3.6 18.65 6.9 18.65C10.2 18.65 12.55 16.2 12.55 12.9C12.55 9.8 10.4 7.6 7.2 7.6C4.3 7.6 1.8 9.6 1.4 12.4"/><path transform="translate(746.38,37.90)" d="M1.35 5.8V1.3M1.35 2.6C3.0 1.1 5.0 0.9 7.2 2.2C9.2 3.4 11.0 3.3 12.65 1.35C12.2 5.5 7.5 9 6.6 13C6.3 15 6.6 17 6.7 18.6"/><path transform="translate(75.90,60.30)" d="M7.35 1.35C10.8 1.35 13.35 4.9 13.35 10C13.35 15.1 10.8 18.65 7.35 18.65C3.9 18.65 1.35 15.1 1.35 10C1.35 4.9 3.9 1.35 7.35 1.35Z"/><path transform="translate(49.40,152.52)" d="M7.35 1.35C10.8 1.35 13.35 4.9 13.35 10C13.35 15.1 10.8 18.65 7.35 18.65C3.9 18.65 1.35 15.1 1.35 10C1.35 4.9 3.9 1.35 7.35 1.35Z"/><path transform="translate(76.60,152.52)" d="M2.3 1.35H11.9M2.3 1.35L1.35 9.4C2.5 7.0 4.3 6.1 6.3 6.1C9.8 6.1 11.95 8.6 11.95 12.3C11.95 16.2 9.6 18.65 6.4 18.65C3.3 18.65 1.35 16.8 1.6 14.6"/><path transform="translate(78.58,244.75)" d="M4.9 1.2V18.6M4.9 1.3L1.3 4.3M1.3 18.65H8.0"/><path transform="translate(52.08,336.97)" d="M4.9 1.2V18.6M4.9 1.3L1.3 4.3M1.3 18.65H8.0"/><path transform="translate(76.60,336.97)" d="M2.3 1.35H11.9M2.3 1.35L1.35 9.4C2.5 7.0 4.3 6.1 6.3 6.1C9.8 6.1 11.95 8.6 11.95 12.3C11.95 16.2 9.6 18.65 6.4 18.65C3.3 18.65 1.35 16.8 1.6 14.6"/><path transform="translate(76.20,429.20)" d="M2.1 5.0C1.4 2.6 3.8 1.35 7.2 1.35C10.6 1.35 12.7 2.9 12.7 5.2C12.7 8.0 10.0 9.3 6.5 11.0C3.2 12.6 1.4 14.6 1.35 18.6M1.6 16.4C3.2 14.9 5.2 15.6 7.3 17.2C9.3 18.9 12.3 18.8 12.7 15.4"/><path transform="translate(49.70,521.42)" d="M2.1 5.0C1.4 2.6 3.8 1.35 7.2 1.35C10.6 1.35 12.7 2.9 12.7 5.2C12.7 8.0 10.0 9.3 6.5 11.0C3.2 12.6 1.4 14.6 1.35 18.6M1.6 16.4C3.2 14.9 5.2 15.6 7.3 17.2C9.3 18.9 12.3 18.8 12.7 15.4"/><path transform="translate(76.60,521.42)" d="M2.3 1.35H11.9M2.3 1.35L1.35 9.4C2.5 7.0 4.3 6.1 6.3 6.1C9.8 6.1 11.95 8.6 11.95 12.3C11.95 16.2 9.6 18.65 6.4 18.65C3.3 18.65 1.35 16.8 1.6 14.6"/></g>
<g fill="#000"><circle cx="289.13" cy="42.90" r="1.85"/><circle cx="381.34" cy="42.90" r="1.85"/><circle cx="381.49" cy="52.10" r="1.85"/><circle cx="564.91" cy="52.20" r="1.85"/><circle cx="665.77" cy="42.30" r="1.85"/><circle cx="69.80" cy="170.42" r="2.1"/><circle cx="78.50" cy="166.82" r="1.85"/><circle cx="69.80" cy="354.87" r="2.1"/><circle cx="78.50" cy="351.27" r="1.85"/><circle cx="78.30" cy="434.20" r="1.85"/><circle cx="51.80" cy="526.42" r="1.85"/><circle cx="69.80" cy="539.32" r="2.1"/><circle cx="78.50" cy="535.72" r="1.85"/></g>
<g filter="url(#gs)" font-family="&quot;Liberation Serif&quot;, serif" font-size="30.0" fill="#000" stroke="#000" stroke-width="0.6"><text transform="translate(370.18,23.30) scale(0.805,1)">D</text><text transform="translate(389.46,23.30) scale(1.069,1)">i</text><text transform="translate(399.60,23.30) scale(1.164,1)">s</text><text transform="translate(414.88,23.30) scale(1.397,1)">t</text><text transform="translate(427.63,23.30) scale(1.207,1)">a</text><text transform="translate(444.24,23.30) scale(1.283,1)">n</text><text transform="translate(464.22,23.30) scale(1.147,1)">c</text><text transform="translate(480.45,23.30) scale(1.288,1)">e</text><text transform="translate(510.42,23.30) scale(1.098,1)">(</text><text transform="translate(522.29,23.30) scale(1.021,1)">k</text><text transform="translate(538.86,23.30) scale(1.234,1)">m</text><text transform="translate(568.65,23.30) scale(1.167,1)">)</text></g>
<g transform="translate(23.8,409.4) rotate(-90)" filter="url(#gs)" font-family="&quot;Liberation Serif&quot;, serif" font-size="30.0" fill="#000" stroke="#000" stroke-width="0.6"><text transform="translate(-0.50,0.00) scale(0.835,1)">T</text><text transform="translate(16.14,0.00) scale(1.097,1)">i</text><text transform="translate(25.99,0.00) scale(1.185,1)">m</text><text transform="translate(53.78,0.00) scale(1.270,1)">e</text><text transform="translate(85.14,0.00) scale(1.085,1)">(</text><text transform="translate(95.93,0.00) scale(1.228,1)">s</text><text transform="translate(111.14,0.00) scale(1.064,1)">)</text></g>
</svg>
</body></html>
